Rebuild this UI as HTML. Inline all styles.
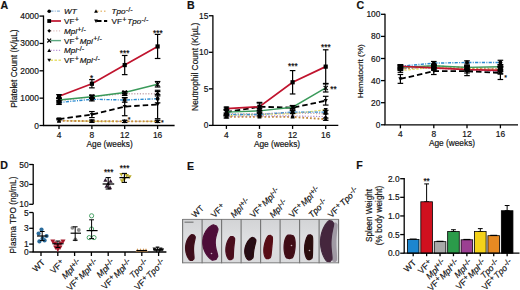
<!DOCTYPE html><html><head><meta charset="utf-8"><style>html,body{margin:0;padding:0;background:#fff;width:520px;height:290px;overflow:hidden}svg{display:block}text{stroke:#222;stroke-width:0.18px;paint-order:stroke}</style></head><body><svg width="520" height="290" viewBox="0 0 520 290">
<g font-family='"Liberation Sans", sans-serif'>
<text x="0.6" y="9.0" font-size="10.6" text-anchor="start" font-weight="bold" fill="#111">A</text>
<line x1="43.50" y1="15.50" x2="43.50" y2="125.50" stroke="#000" stroke-width="1.3" stroke-linecap="butt"/>
<line x1="39.50" y1="125.50" x2="43.50" y2="125.50" stroke="#000" stroke-width="1.3" stroke-linecap="butt"/>
<text x="38.9" y="128.5" font-size="8.4" text-anchor="end" fill="#111">0</text>
<line x1="39.50" y1="98.15" x2="43.50" y2="98.15" stroke="#000" stroke-width="1.3" stroke-linecap="butt"/>
<text x="38.9" y="101.15" font-size="8.4" text-anchor="end" fill="#111">1000</text>
<line x1="39.50" y1="70.80" x2="43.50" y2="70.80" stroke="#000" stroke-width="1.3" stroke-linecap="butt"/>
<text x="38.9" y="73.80000000000001" font-size="8.4" text-anchor="end" fill="#111">2000</text>
<line x1="39.50" y1="43.45" x2="43.50" y2="43.45" stroke="#000" stroke-width="1.3" stroke-linecap="butt"/>
<text x="38.9" y="46.45" font-size="8.4" text-anchor="end" fill="#111">3000</text>
<line x1="39.50" y1="16.10" x2="43.50" y2="16.10" stroke="#000" stroke-width="1.3" stroke-linecap="butt"/>
<text x="38.9" y="19.10000000000001" font-size="8.4" text-anchor="end" fill="#111">4000</text>
<line x1="42.90" y1="125.50" x2="174.60" y2="125.50" stroke="#000" stroke-width="1.3" stroke-linecap="butt"/>
<line x1="59.00" y1="125.50" x2="59.00" y2="129.00" stroke="#000" stroke-width="1.3" stroke-linecap="butt"/>
<text x="59.0" y="137.7" font-size="8.4" text-anchor="middle" fill="#111">4</text>
<line x1="91.90" y1="125.50" x2="91.90" y2="129.00" stroke="#000" stroke-width="1.3" stroke-linecap="butt"/>
<text x="91.9" y="137.7" font-size="8.4" text-anchor="middle" fill="#111">8</text>
<line x1="124.70" y1="125.50" x2="124.70" y2="129.00" stroke="#000" stroke-width="1.3" stroke-linecap="butt"/>
<text x="124.7" y="137.7" font-size="8.4" text-anchor="middle" fill="#111">12</text>
<line x1="157.60" y1="125.50" x2="157.60" y2="129.00" stroke="#000" stroke-width="1.3" stroke-linecap="butt"/>
<text x="157.6" y="137.7" font-size="8.4" text-anchor="middle" fill="#111">16</text>
<text x="109.6" y="147.3" font-size="8.3" text-anchor="middle" fill="#111">Age (weeks)</text>
<text x="16.7" y="68.6" font-size="8.45" text-anchor="middle" fill="#111" transform="rotate(-90 16.7 68.6)">Platelet Count (K/µL)</text>
<polyline points="59.00,120.71 91.90,121.26 124.70,121.40 157.60,121.40" fill="none" stroke="#b088d0" stroke-width="1.1" stroke-dasharray="1.2 1.6"/>
<polyline points="59.00,120.58 91.90,121.26 124.70,121.40 157.60,121.40" fill="none" stroke="#e4dc60" stroke-width="1.2" stroke-dasharray="2.5 1.5"/>
<polyline points="59.00,120.80 91.90,121.12 124.70,121.40 157.60,121.40" fill="none" stroke="#c48a40" stroke-width="1.9" stroke-dasharray="1.8 2.0"/>
<polyline points="59.00,119.07 91.90,114.56 124.70,106.63 157.60,104.50" fill="none" stroke="#000" stroke-width="1.8" stroke-dasharray="5.5 3"/>
<polyline points="59.00,102.53 91.90,99.24 124.70,100.01 157.60,98.75" fill="none" stroke="#2a8ad0" stroke-width="1.4" stroke-dasharray="3.2 1.3 1 1.3"/>
<polyline points="59.00,100.89 91.90,96.78 124.70,93.75 157.60,93.75" fill="none" stroke="#c8a8b0" stroke-width="1.3" stroke-dasharray="1.2 1.6"/>
<polyline points="59.00,100.01 91.90,96.76 124.70,92.52 157.60,84.26" fill="none" stroke="#3a9a5a" stroke-width="1.4"/>
<polyline points="59.00,96.24 91.90,83.74 124.70,65.06 157.60,46.46" fill="none" stroke="#c0142e" stroke-width="1.7"/>
<path d="M59.00 118.61L61.10 122.39L56.90 122.39Z" fill="#000"/>
<path d="M91.90 119.16L94.00 122.94L89.80 122.94Z" fill="#000"/>
<path d="M124.70 119.30L126.80 123.08L122.60 123.08Z" fill="#000"/>
<path d="M157.60 119.30L159.70 123.08L155.50 123.08Z" fill="#000"/>
<path d="M59.00 122.68L61.10 118.90L56.90 118.90Z" fill="#000"/>
<path d="M91.90 123.36L94.00 119.58L89.80 119.58Z" fill="#000"/>
<path d="M124.70 123.50L126.80 119.72L122.60 119.72Z" fill="#000"/>
<path d="M157.60 123.50L159.70 119.72L155.50 119.72Z" fill="#000"/>
<path d="M59.00 118.70L61.10 122.48L56.90 122.48Z" fill="#000"/>
<line x1="91.90" y1="120.03" x2="91.90" y2="122.22" stroke="#000" stroke-width="1.2" stroke-linecap="butt"/>
<line x1="89.10" y1="120.03" x2="94.70" y2="120.03" stroke="#000" stroke-width="1.2" stroke-linecap="butt"/>
<line x1="89.10" y1="122.22" x2="94.70" y2="122.22" stroke="#000" stroke-width="1.2" stroke-linecap="butt"/>
<path d="M91.90 119.02L94.00 122.80L89.80 122.80Z" fill="#000"/>
<line x1="124.70" y1="120.30" x2="124.70" y2="122.49" stroke="#000" stroke-width="1.2" stroke-linecap="butt"/>
<line x1="121.90" y1="120.30" x2="127.50" y2="120.30" stroke="#000" stroke-width="1.2" stroke-linecap="butt"/>
<line x1="121.90" y1="122.49" x2="127.50" y2="122.49" stroke="#000" stroke-width="1.2" stroke-linecap="butt"/>
<path d="M124.70 119.30L126.80 123.08L122.60 123.08Z" fill="#000"/>
<line x1="157.60" y1="120.30" x2="157.60" y2="122.49" stroke="#000" stroke-width="1.2" stroke-linecap="butt"/>
<line x1="154.80" y1="120.30" x2="160.40" y2="120.30" stroke="#000" stroke-width="1.2" stroke-linecap="butt"/>
<line x1="154.80" y1="122.49" x2="160.40" y2="122.49" stroke="#000" stroke-width="1.2" stroke-linecap="butt"/>
<path d="M157.60 119.30L159.70 123.08L155.50 123.08Z" fill="#000"/>
<line x1="59.00" y1="118.39" x2="59.00" y2="119.76" stroke="#000" stroke-width="1.2" stroke-linecap="butt"/>
<line x1="56.20" y1="118.39" x2="61.80" y2="118.39" stroke="#000" stroke-width="1.2" stroke-linecap="butt"/>
<line x1="56.20" y1="119.76" x2="61.80" y2="119.76" stroke="#000" stroke-width="1.2" stroke-linecap="butt"/>
<path d="M59.00 121.17L61.10 117.39L56.90 117.39Z" fill="#000"/>
<line x1="91.90" y1="111.55" x2="91.90" y2="117.57" stroke="#000" stroke-width="1.2" stroke-linecap="butt"/>
<line x1="89.10" y1="111.55" x2="94.70" y2="111.55" stroke="#000" stroke-width="1.2" stroke-linecap="butt"/>
<line x1="89.10" y1="117.57" x2="94.70" y2="117.57" stroke="#000" stroke-width="1.2" stroke-linecap="butt"/>
<path d="M91.90 116.66L94.00 112.88L89.80 112.88Z" fill="#000"/>
<line x1="124.70" y1="97.55" x2="124.70" y2="115.71" stroke="#000" stroke-width="1.2" stroke-linecap="butt"/>
<line x1="121.90" y1="97.55" x2="127.50" y2="97.55" stroke="#000" stroke-width="1.2" stroke-linecap="butt"/>
<line x1="121.90" y1="115.71" x2="127.50" y2="115.71" stroke="#000" stroke-width="1.2" stroke-linecap="butt"/>
<path d="M124.70 108.73L126.80 104.95L122.60 104.95Z" fill="#000"/>
<line x1="157.60" y1="90.27" x2="157.60" y2="118.72" stroke="#000" stroke-width="1.2" stroke-linecap="butt"/>
<line x1="154.80" y1="90.27" x2="160.40" y2="90.27" stroke="#000" stroke-width="1.2" stroke-linecap="butt"/>
<line x1="154.80" y1="118.72" x2="160.40" y2="118.72" stroke="#000" stroke-width="1.2" stroke-linecap="butt"/>
<path d="M157.60 106.60L159.70 102.82L155.50 102.82Z" fill="#000"/>
<line x1="59.00" y1="100.61" x2="59.00" y2="104.44" stroke="#000" stroke-width="1.2" stroke-linecap="butt"/>
<line x1="56.20" y1="100.61" x2="61.80" y2="100.61" stroke="#000" stroke-width="1.2" stroke-linecap="butt"/>
<line x1="56.20" y1="104.44" x2="61.80" y2="104.44" stroke="#000" stroke-width="1.2" stroke-linecap="butt"/>
<circle cx="59.00" cy="102.53" r="1.99" fill="#000"/>
<line x1="91.90" y1="97.60" x2="91.90" y2="100.89" stroke="#000" stroke-width="1.2" stroke-linecap="butt"/>
<line x1="89.10" y1="97.60" x2="94.70" y2="97.60" stroke="#000" stroke-width="1.2" stroke-linecap="butt"/>
<line x1="89.10" y1="100.89" x2="94.70" y2="100.89" stroke="#000" stroke-width="1.2" stroke-linecap="butt"/>
<circle cx="91.90" cy="99.24" r="1.99" fill="#000"/>
<line x1="124.70" y1="97.82" x2="124.70" y2="102.20" stroke="#000" stroke-width="1.2" stroke-linecap="butt"/>
<line x1="121.90" y1="97.82" x2="127.50" y2="97.82" stroke="#000" stroke-width="1.2" stroke-linecap="butt"/>
<line x1="121.90" y1="102.20" x2="127.50" y2="102.20" stroke="#000" stroke-width="1.2" stroke-linecap="butt"/>
<circle cx="124.70" cy="100.01" r="1.99" fill="#000"/>
<line x1="157.60" y1="94.65" x2="157.60" y2="102.85" stroke="#000" stroke-width="1.2" stroke-linecap="butt"/>
<line x1="154.80" y1="94.65" x2="160.40" y2="94.65" stroke="#000" stroke-width="1.2" stroke-linecap="butt"/>
<line x1="154.80" y1="102.85" x2="160.40" y2="102.85" stroke="#000" stroke-width="1.2" stroke-linecap="butt"/>
<circle cx="157.60" cy="98.75" r="1.99" fill="#000"/>
<line x1="59.00" y1="98.70" x2="59.00" y2="103.07" stroke="#000" stroke-width="1.2" stroke-linecap="butt"/>
<line x1="56.20" y1="98.70" x2="61.80" y2="98.70" stroke="#000" stroke-width="1.2" stroke-linecap="butt"/>
<line x1="56.20" y1="103.07" x2="61.80" y2="103.07" stroke="#000" stroke-width="1.2" stroke-linecap="butt"/>
<path d="M59.00 98.79L61.10 100.89L59.00 102.98L56.90 100.89Z" fill="#000"/>
<line x1="91.90" y1="95.14" x2="91.90" y2="98.42" stroke="#000" stroke-width="1.2" stroke-linecap="butt"/>
<line x1="89.10" y1="95.14" x2="94.70" y2="95.14" stroke="#000" stroke-width="1.2" stroke-linecap="butt"/>
<line x1="89.10" y1="98.42" x2="94.70" y2="98.42" stroke="#000" stroke-width="1.2" stroke-linecap="butt"/>
<path d="M91.90 94.68L94.00 96.78L91.90 98.88L89.80 96.78Z" fill="#000"/>
<line x1="124.70" y1="92.11" x2="124.70" y2="95.39" stroke="#000" stroke-width="1.2" stroke-linecap="butt"/>
<line x1="121.90" y1="92.11" x2="127.50" y2="92.11" stroke="#000" stroke-width="1.2" stroke-linecap="butt"/>
<line x1="121.90" y1="95.39" x2="127.50" y2="95.39" stroke="#000" stroke-width="1.2" stroke-linecap="butt"/>
<path d="M124.70 91.65L126.80 93.75L124.70 95.85L122.60 93.75Z" fill="#000"/>
<line x1="157.60" y1="91.56" x2="157.60" y2="95.93" stroke="#000" stroke-width="1.2" stroke-linecap="butt"/>
<line x1="154.80" y1="91.56" x2="160.40" y2="91.56" stroke="#000" stroke-width="1.2" stroke-linecap="butt"/>
<line x1="154.80" y1="95.93" x2="160.40" y2="95.93" stroke="#000" stroke-width="1.2" stroke-linecap="butt"/>
<path d="M157.60 91.65L159.70 93.75L157.60 95.85L155.50 93.75Z" fill="#000"/>
<line x1="59.00" y1="98.10" x2="59.00" y2="101.92" stroke="#000" stroke-width="1.2" stroke-linecap="butt"/>
<line x1="56.20" y1="98.10" x2="61.80" y2="98.10" stroke="#000" stroke-width="1.2" stroke-linecap="butt"/>
<line x1="56.20" y1="101.92" x2="61.80" y2="101.92" stroke="#000" stroke-width="1.2" stroke-linecap="butt"/>
<path d="M56.90 97.91L61.10 102.11M61.10 97.91L56.90 102.11" stroke="#000" stroke-width="1.2"/>
<line x1="91.90" y1="95.39" x2="91.90" y2="98.12" stroke="#000" stroke-width="1.2" stroke-linecap="butt"/>
<line x1="89.10" y1="95.39" x2="94.70" y2="95.39" stroke="#000" stroke-width="1.2" stroke-linecap="butt"/>
<line x1="89.10" y1="98.12" x2="94.70" y2="98.12" stroke="#000" stroke-width="1.2" stroke-linecap="butt"/>
<path d="M89.80 94.66L94.00 98.86M94.00 94.66L89.80 98.86" stroke="#000" stroke-width="1.2"/>
<line x1="124.70" y1="91.42" x2="124.70" y2="93.61" stroke="#000" stroke-width="1.2" stroke-linecap="butt"/>
<line x1="121.90" y1="91.42" x2="127.50" y2="91.42" stroke="#000" stroke-width="1.2" stroke-linecap="butt"/>
<line x1="121.90" y1="93.61" x2="127.50" y2="93.61" stroke="#000" stroke-width="1.2" stroke-linecap="butt"/>
<path d="M122.60 90.42L126.80 94.62M126.80 90.42L122.60 94.62" stroke="#000" stroke-width="1.2"/>
<line x1="157.60" y1="81.52" x2="157.60" y2="86.99" stroke="#000" stroke-width="1.2" stroke-linecap="butt"/>
<line x1="154.80" y1="81.52" x2="160.40" y2="81.52" stroke="#000" stroke-width="1.2" stroke-linecap="butt"/>
<line x1="154.80" y1="86.99" x2="160.40" y2="86.99" stroke="#000" stroke-width="1.2" stroke-linecap="butt"/>
<path d="M155.50 82.16L159.70 86.36M159.70 82.16L155.50 86.36" stroke="#000" stroke-width="1.2"/>
<line x1="59.00" y1="94.59" x2="59.00" y2="97.88" stroke="#000" stroke-width="1.2" stroke-linecap="butt"/>
<line x1="56.20" y1="94.59" x2="61.80" y2="94.59" stroke="#000" stroke-width="1.2" stroke-linecap="butt"/>
<line x1="56.20" y1="97.88" x2="61.80" y2="97.88" stroke="#000" stroke-width="1.2" stroke-linecap="butt"/>
<rect x="56.90" y="94.14" width="4.20" height="4.20" fill="#000"/>
<line x1="91.90" y1="79.63" x2="91.90" y2="87.84" stroke="#000" stroke-width="1.2" stroke-linecap="butt"/>
<line x1="89.10" y1="79.63" x2="94.70" y2="79.63" stroke="#000" stroke-width="1.2" stroke-linecap="butt"/>
<line x1="89.10" y1="87.84" x2="94.70" y2="87.84" stroke="#000" stroke-width="1.2" stroke-linecap="butt"/>
<rect x="89.80" y="81.64" width="4.20" height="4.20" fill="#000"/>
<line x1="124.70" y1="55.48" x2="124.70" y2="74.63" stroke="#000" stroke-width="1.2" stroke-linecap="butt"/>
<line x1="121.90" y1="55.48" x2="127.50" y2="55.48" stroke="#000" stroke-width="1.2" stroke-linecap="butt"/>
<line x1="121.90" y1="74.63" x2="127.50" y2="74.63" stroke="#000" stroke-width="1.2" stroke-linecap="butt"/>
<rect x="122.60" y="62.96" width="4.20" height="4.20" fill="#000"/>
<line x1="157.60" y1="34.42" x2="157.60" y2="58.49" stroke="#000" stroke-width="1.2" stroke-linecap="butt"/>
<line x1="154.80" y1="34.42" x2="160.40" y2="34.42" stroke="#000" stroke-width="1.2" stroke-linecap="butt"/>
<line x1="154.80" y1="58.49" x2="160.40" y2="58.49" stroke="#000" stroke-width="1.2" stroke-linecap="butt"/>
<rect x="155.50" y="44.36" width="4.20" height="4.20" fill="#000"/>
<text x="91.7" y="80.52" font-size="8.2" text-anchor="middle" fill="#000">*</text>
<text x="124.6" y="56.42" font-size="8.2" text-anchor="middle" fill="#000">***</text>
<text x="157.8" y="35.92" font-size="8.2" text-anchor="middle" fill="#000">***</text>
<text x="129.2" y="121.5" font-size="7" text-anchor="middle" fill="#000">*</text>
<text x="162.3" y="124.8" font-size="7" text-anchor="middle" fill="#000">*</text>
<line x1="50.50" y1="11.20" x2="61.00" y2="11.20" stroke="#8ab4d8" stroke-width="1.3" stroke-dasharray="3 1.2 1 1.2" stroke-linecap="butt"/>
<circle cx="49.20" cy="11.20" r="1.80" fill="#000"/>
<text x="64" y="14.10" font-size="8.1" fill="#111"><tspan font-style="italic">WT</tspan></text>
<line x1="50.50" y1="21.00" x2="61.00" y2="21.00" stroke="#c0142e" stroke-width="1.7" stroke-linecap="butt"/>
<rect x="47.30" y="19.10" width="3.80" height="3.80" fill="#000"/>
<text x="64" y="23.90" font-size="8.1" fill="#111"><tspan>VF</tspan><tspan font-size="7.29" dx="0.3" dy="-2.02">+</tspan><tspan dx="0" dy="2.02">​</tspan></text>
<line x1="50.50" y1="30.80" x2="61.00" y2="30.80" stroke="#e0c0c0" stroke-width="1.3" stroke-dasharray="1.2 1.6" stroke-linecap="butt"/>
<path d="M49.20 28.90L51.10 30.80L49.20 32.70L47.30 30.80Z" fill="#000"/>
<text x="64" y="33.70" font-size="8.1" fill="#111"><tspan font-style="italic">Mpl</tspan><tspan font-size="7.29" dx="0.3" dy="-2.02">+/-</tspan><tspan dx="0" dy="2.02">​</tspan></text>
<line x1="50.50" y1="40.60" x2="61.00" y2="40.60" stroke="#5aa880" stroke-width="1.4" stroke-linecap="butt"/>
<path d="M47.30 38.70L51.10 42.50M51.10 38.70L47.30 42.50" stroke="#000" stroke-width="1.2"/>
<text x="64" y="43.50" font-size="8.1" fill="#111"><tspan>VF</tspan><tspan font-size="7.29" dx="0.3" dy="-2.02">+</tspan><tspan dx="0.9" dy="2.02">​</tspan><tspan font-style="italic">Mpl</tspan><tspan font-size="7.29" dx="0.3" dy="-2.02">+/-</tspan><tspan dx="0" dy="2.02">​</tspan></text>
<line x1="50.50" y1="50.40" x2="61.00" y2="50.40" stroke="#b890d8" stroke-width="1.3" stroke-dasharray="1.2 1.6" stroke-linecap="butt"/>
<path d="M49.20 48.50L51.10 51.92L47.30 51.92Z" fill="#000"/>
<text x="64" y="53.30" font-size="8.1" fill="#111"><tspan font-style="italic">Mpl</tspan><tspan font-size="7.29" dx="0.3" dy="-2.02">-/-</tspan><tspan dx="0" dy="2.02">​</tspan></text>
<line x1="50.50" y1="60.20" x2="61.00" y2="60.20" stroke="#e8e070" stroke-width="1.4" stroke-dasharray="2.5 1.5" stroke-linecap="butt"/>
<path d="M49.20 62.10L51.10 58.68L47.30 58.68Z" fill="#000"/>
<text x="64" y="63.10" font-size="8.1" fill="#111"><tspan>VF</tspan><tspan font-size="7.29" dx="0.3" dy="-2.02">+</tspan><tspan dx="0.9" dy="2.02">​</tspan><tspan font-style="italic">Mpl</tspan><tspan font-size="7.29" dx="0.3" dy="-2.02">-/-</tspan><tspan dx="0" dy="2.02">​</tspan></text>
<line x1="97.00" y1="11.20" x2="107.20" y2="11.20" stroke="#e8c080" stroke-width="1.5" stroke-dasharray="1.5 2" stroke-linecap="butt"/>
<path d="M96.00 9.30L97.90 12.72L94.10 12.72Z" fill="#000"/>
<text x="111.5" y="14.10" font-size="8.1" fill="#111"><tspan font-style="italic">Tpo</tspan><tspan font-size="7.29" dx="0.3" dy="-2.02">-/-</tspan><tspan dx="0" dy="2.02">​</tspan></text>
<line x1="97.00" y1="21.00" x2="107.20" y2="21.00" stroke="#000" stroke-width="1.8" stroke-dasharray="4.5 2.5" stroke-linecap="butt"/>
<path d="M96.00 22.90L97.90 19.48L94.10 19.48Z" fill="#000"/>
<text x="111.5" y="23.90" font-size="8.1" fill="#111"><tspan>VF</tspan><tspan font-size="7.29" dx="0.3" dy="-2.02">+</tspan><tspan dx="0.9" dy="2.02">​</tspan><tspan font-style="italic">Tpo</tspan><tspan font-size="7.29" dx="0.3" dy="-2.02">-/-</tspan><tspan dx="0" dy="2.02">​</tspan></text>
<text x="187.0" y="9.1" font-size="10.6" text-anchor="start" font-weight="bold" fill="#111">B</text>
<line x1="212.90" y1="15.15" x2="212.90" y2="125.40" stroke="#000" stroke-width="1.3" stroke-linecap="butt"/>
<line x1="208.90" y1="125.40" x2="212.90" y2="125.40" stroke="#000" stroke-width="1.3" stroke-linecap="butt"/>
<text x="208.3" y="128.4" font-size="8.4" text-anchor="end" fill="#111">0</text>
<line x1="208.90" y1="88.85" x2="212.90" y2="88.85" stroke="#000" stroke-width="1.3" stroke-linecap="butt"/>
<text x="208.3" y="91.85000000000001" font-size="8.4" text-anchor="end" fill="#111">5</text>
<line x1="208.90" y1="52.30" x2="212.90" y2="52.30" stroke="#000" stroke-width="1.3" stroke-linecap="butt"/>
<text x="208.3" y="55.30000000000001" font-size="8.4" text-anchor="end" fill="#111">10</text>
<line x1="208.90" y1="15.75" x2="212.90" y2="15.75" stroke="#000" stroke-width="1.3" stroke-linecap="butt"/>
<text x="208.3" y="18.750000000000014" font-size="8.4" text-anchor="end" fill="#111">15</text>
<line x1="212.30" y1="125.40" x2="338.30" y2="125.40" stroke="#000" stroke-width="1.3" stroke-linecap="butt"/>
<line x1="226.40" y1="125.40" x2="226.40" y2="128.90" stroke="#000" stroke-width="1.3" stroke-linecap="butt"/>
<text x="226.4" y="137.6" font-size="8.4" text-anchor="middle" fill="#111">4</text>
<line x1="259.50" y1="125.40" x2="259.50" y2="128.90" stroke="#000" stroke-width="1.3" stroke-linecap="butt"/>
<text x="259.5" y="137.6" font-size="8.4" text-anchor="middle" fill="#111">8</text>
<line x1="292.60" y1="125.40" x2="292.60" y2="128.90" stroke="#000" stroke-width="1.3" stroke-linecap="butt"/>
<text x="292.6" y="137.6" font-size="8.4" text-anchor="middle" fill="#111">12</text>
<line x1="325.70" y1="125.40" x2="325.70" y2="128.90" stroke="#000" stroke-width="1.3" stroke-linecap="butt"/>
<text x="325.7" y="137.6" font-size="8.4" text-anchor="middle" fill="#111">16</text>
<text x="277" y="147.3" font-size="8.3" text-anchor="middle" fill="#111">Age (weeks)</text>
<text x="197.6" y="66.8" font-size="8.4" text-anchor="middle" fill="#111" transform="rotate(-90 197.6 66.8)">Neutrophil Count (K/µL)</text>
<polyline points="226.40,116.92 259.50,116.92 292.60,116.92 325.70,119.19" fill="none" stroke="#c48a40" stroke-width="1.9" stroke-dasharray="1.8 2.0"/>
<polyline points="226.40,116.26 259.50,115.90 292.60,115.90 325.70,116.63" fill="none" stroke="#b088d0" stroke-width="1.1" stroke-dasharray="1.2 1.6"/>
<polyline points="226.40,115.53 259.50,114.44 292.60,113.70 325.70,109.68" fill="none" stroke="#e4dc60" stroke-width="1.2" stroke-dasharray="2.5 1.5"/>
<polyline points="226.40,114.44 259.50,114.44 292.60,112.10 325.70,112.10" fill="none" stroke="#2a8ad0" stroke-width="1.4" stroke-dasharray="3.2 1.3 1 1.3"/>
<polyline points="226.40,113.70 259.50,113.70 292.60,112.97 325.70,113.70" fill="none" stroke="#c8a8b0" stroke-width="1.3" stroke-dasharray="1.2 1.6"/>
<polyline points="226.40,112.10 259.50,106.76 292.60,107.71 325.70,100.69" fill="none" stroke="#000" stroke-width="1.8" stroke-dasharray="5.5 3"/>
<polyline points="226.40,112.10 259.50,110.85 292.60,107.20 325.70,87.97" fill="none" stroke="#3a9a5a" stroke-width="1.4"/>
<polyline points="226.40,108.59 259.50,106.76 292.60,82.27 325.70,66.63" fill="none" stroke="#c0142e" stroke-width="1.7"/>
<line x1="226.40" y1="115.82" x2="226.40" y2="118.02" stroke="#000" stroke-width="1.2" stroke-linecap="butt"/>
<line x1="223.60" y1="115.82" x2="229.20" y2="115.82" stroke="#000" stroke-width="1.2" stroke-linecap="butt"/>
<line x1="223.60" y1="118.02" x2="229.20" y2="118.02" stroke="#000" stroke-width="1.2" stroke-linecap="butt"/>
<path d="M226.40 114.82L228.50 118.60L224.30 118.60Z" fill="#000"/>
<path d="M259.50 114.82L261.60 118.60L257.40 118.60Z" fill="#000"/>
<path d="M292.60 114.82L294.70 118.60L290.50 118.60Z" fill="#000"/>
<line x1="325.70" y1="118.09" x2="325.70" y2="120.28" stroke="#000" stroke-width="1.2" stroke-linecap="butt"/>
<line x1="322.90" y1="118.09" x2="328.50" y2="118.09" stroke="#000" stroke-width="1.2" stroke-linecap="butt"/>
<line x1="322.90" y1="120.28" x2="328.50" y2="120.28" stroke="#000" stroke-width="1.2" stroke-linecap="butt"/>
<path d="M325.70 117.09L327.80 120.87L323.60 120.87Z" fill="#000"/>
<path d="M226.40 114.16L228.50 117.94L224.30 117.94Z" fill="#000"/>
<path d="M259.50 113.80L261.60 117.58L257.40 117.58Z" fill="#000"/>
<path d="M292.60 113.80L294.70 117.58L290.50 117.58Z" fill="#000"/>
<path d="M325.70 114.53L327.80 118.31L323.60 118.31Z" fill="#000"/>
<path d="M226.40 117.63L228.50 113.85L224.30 113.85Z" fill="#000"/>
<path d="M259.50 116.53L261.60 112.75L257.40 112.75Z" fill="#000"/>
<path d="M292.60 115.80L294.70 112.02L290.50 112.02Z" fill="#000"/>
<path d="M325.70 111.78L327.80 108.00L323.60 108.00Z" fill="#000"/>
<line x1="226.40" y1="112.97" x2="226.40" y2="115.90" stroke="#000" stroke-width="1.2" stroke-linecap="butt"/>
<line x1="223.60" y1="112.97" x2="229.20" y2="112.97" stroke="#000" stroke-width="1.2" stroke-linecap="butt"/>
<line x1="223.60" y1="115.90" x2="229.20" y2="115.90" stroke="#000" stroke-width="1.2" stroke-linecap="butt"/>
<circle cx="226.40" cy="114.44" r="1.99" fill="#000"/>
<line x1="259.50" y1="112.97" x2="259.50" y2="115.90" stroke="#000" stroke-width="1.2" stroke-linecap="butt"/>
<line x1="256.70" y1="112.97" x2="262.30" y2="112.97" stroke="#000" stroke-width="1.2" stroke-linecap="butt"/>
<line x1="256.70" y1="115.90" x2="262.30" y2="115.90" stroke="#000" stroke-width="1.2" stroke-linecap="butt"/>
<circle cx="259.50" cy="114.44" r="1.99" fill="#000"/>
<line x1="292.60" y1="110.63" x2="292.60" y2="113.56" stroke="#000" stroke-width="1.2" stroke-linecap="butt"/>
<line x1="289.80" y1="110.63" x2="295.40" y2="110.63" stroke="#000" stroke-width="1.2" stroke-linecap="butt"/>
<line x1="289.80" y1="113.56" x2="295.40" y2="113.56" stroke="#000" stroke-width="1.2" stroke-linecap="butt"/>
<circle cx="292.60" cy="112.10" r="1.99" fill="#000"/>
<line x1="325.70" y1="110.27" x2="325.70" y2="113.92" stroke="#000" stroke-width="1.2" stroke-linecap="butt"/>
<line x1="322.90" y1="110.27" x2="328.50" y2="110.27" stroke="#000" stroke-width="1.2" stroke-linecap="butt"/>
<line x1="322.90" y1="113.92" x2="328.50" y2="113.92" stroke="#000" stroke-width="1.2" stroke-linecap="butt"/>
<circle cx="325.70" cy="112.10" r="1.99" fill="#000"/>
<path d="M226.40 111.60L228.50 113.70L226.40 115.80L224.30 113.70Z" fill="#000"/>
<path d="M259.50 111.60L261.60 113.70L259.50 115.80L257.40 113.70Z" fill="#000"/>
<path d="M292.60 110.87L294.70 112.97L292.60 115.07L290.50 112.97Z" fill="#000"/>
<path d="M325.70 111.60L327.80 113.70L325.70 115.80L323.60 113.70Z" fill="#000"/>
<line x1="226.40" y1="109.17" x2="226.40" y2="115.02" stroke="#000" stroke-width="1.2" stroke-linecap="butt"/>
<line x1="223.60" y1="109.17" x2="229.20" y2="109.17" stroke="#000" stroke-width="1.2" stroke-linecap="butt"/>
<line x1="223.60" y1="115.02" x2="229.20" y2="115.02" stroke="#000" stroke-width="1.2" stroke-linecap="butt"/>
<path d="M226.40 114.20L228.50 110.42L224.30 110.42Z" fill="#000"/>
<line x1="259.50" y1="103.10" x2="259.50" y2="110.41" stroke="#000" stroke-width="1.2" stroke-linecap="butt"/>
<line x1="256.70" y1="103.10" x2="262.30" y2="103.10" stroke="#000" stroke-width="1.2" stroke-linecap="butt"/>
<line x1="256.70" y1="110.41" x2="262.30" y2="110.41" stroke="#000" stroke-width="1.2" stroke-linecap="butt"/>
<path d="M259.50 108.86L261.60 105.08L257.40 105.08Z" fill="#000"/>
<line x1="292.60" y1="105.52" x2="292.60" y2="109.90" stroke="#000" stroke-width="1.2" stroke-linecap="butt"/>
<line x1="289.80" y1="105.52" x2="295.40" y2="105.52" stroke="#000" stroke-width="1.2" stroke-linecap="butt"/>
<line x1="289.80" y1="109.90" x2="295.40" y2="109.90" stroke="#000" stroke-width="1.2" stroke-linecap="butt"/>
<path d="M292.60 109.81L294.70 106.03L290.50 106.03Z" fill="#000"/>
<line x1="325.70" y1="96.31" x2="325.70" y2="105.08" stroke="#000" stroke-width="1.2" stroke-linecap="butt"/>
<line x1="322.90" y1="96.31" x2="328.50" y2="96.31" stroke="#000" stroke-width="1.2" stroke-linecap="butt"/>
<line x1="322.90" y1="105.08" x2="328.50" y2="105.08" stroke="#000" stroke-width="1.2" stroke-linecap="butt"/>
<path d="M325.70 102.79L327.80 99.01L323.60 99.01Z" fill="#000"/>
<line x1="226.40" y1="109.90" x2="226.40" y2="114.29" stroke="#000" stroke-width="1.2" stroke-linecap="butt"/>
<line x1="223.60" y1="109.90" x2="229.20" y2="109.90" stroke="#000" stroke-width="1.2" stroke-linecap="butt"/>
<line x1="223.60" y1="114.29" x2="229.20" y2="114.29" stroke="#000" stroke-width="1.2" stroke-linecap="butt"/>
<path d="M224.30 110.00L228.50 114.20M228.50 110.00L224.30 114.20" stroke="#000" stroke-width="1.2"/>
<line x1="259.50" y1="108.66" x2="259.50" y2="113.05" stroke="#000" stroke-width="1.2" stroke-linecap="butt"/>
<line x1="256.70" y1="108.66" x2="262.30" y2="108.66" stroke="#000" stroke-width="1.2" stroke-linecap="butt"/>
<line x1="256.70" y1="113.05" x2="262.30" y2="113.05" stroke="#000" stroke-width="1.2" stroke-linecap="butt"/>
<path d="M257.40 108.75L261.60 112.95M261.60 108.75L257.40 112.95" stroke="#000" stroke-width="1.2"/>
<line x1="292.60" y1="105.74" x2="292.60" y2="108.66" stroke="#000" stroke-width="1.2" stroke-linecap="butt"/>
<line x1="289.80" y1="105.74" x2="295.40" y2="105.74" stroke="#000" stroke-width="1.2" stroke-linecap="butt"/>
<line x1="289.80" y1="108.66" x2="295.40" y2="108.66" stroke="#000" stroke-width="1.2" stroke-linecap="butt"/>
<path d="M290.50 105.10L294.70 109.30M294.70 105.10L290.50 109.30" stroke="#000" stroke-width="1.2"/>
<line x1="325.70" y1="83.95" x2="325.70" y2="91.99" stroke="#000" stroke-width="1.2" stroke-linecap="butt"/>
<line x1="322.90" y1="83.95" x2="328.50" y2="83.95" stroke="#000" stroke-width="1.2" stroke-linecap="butt"/>
<line x1="322.90" y1="91.99" x2="328.50" y2="91.99" stroke="#000" stroke-width="1.2" stroke-linecap="butt"/>
<path d="M323.60 85.87L327.80 90.07M327.80 85.87L323.60 90.07" stroke="#000" stroke-width="1.2"/>
<line x1="226.40" y1="107.12" x2="226.40" y2="110.05" stroke="#000" stroke-width="1.2" stroke-linecap="butt"/>
<line x1="223.60" y1="107.12" x2="229.20" y2="107.12" stroke="#000" stroke-width="1.2" stroke-linecap="butt"/>
<line x1="223.60" y1="110.05" x2="229.20" y2="110.05" stroke="#000" stroke-width="1.2" stroke-linecap="butt"/>
<rect x="224.30" y="106.49" width="4.20" height="4.20" fill="#000"/>
<line x1="259.50" y1="102.37" x2="259.50" y2="111.15" stroke="#000" stroke-width="1.2" stroke-linecap="butt"/>
<line x1="256.70" y1="102.37" x2="262.30" y2="102.37" stroke="#000" stroke-width="1.2" stroke-linecap="butt"/>
<line x1="256.70" y1="111.15" x2="262.30" y2="111.15" stroke="#000" stroke-width="1.2" stroke-linecap="butt"/>
<rect x="257.40" y="104.66" width="4.20" height="4.20" fill="#000"/>
<line x1="292.60" y1="70.58" x2="292.60" y2="93.97" stroke="#000" stroke-width="1.2" stroke-linecap="butt"/>
<line x1="289.80" y1="70.58" x2="295.40" y2="70.58" stroke="#000" stroke-width="1.2" stroke-linecap="butt"/>
<line x1="289.80" y1="93.97" x2="295.40" y2="93.97" stroke="#000" stroke-width="1.2" stroke-linecap="butt"/>
<rect x="290.50" y="80.17" width="4.20" height="4.20" fill="#000"/>
<line x1="325.70" y1="49.81" x2="325.70" y2="83.44" stroke="#000" stroke-width="1.2" stroke-linecap="butt"/>
<line x1="322.90" y1="49.81" x2="328.50" y2="49.81" stroke="#000" stroke-width="1.2" stroke-linecap="butt"/>
<line x1="322.90" y1="83.44" x2="328.50" y2="83.44" stroke="#000" stroke-width="1.2" stroke-linecap="butt"/>
<rect x="323.60" y="64.53" width="4.20" height="4.20" fill="#000"/>
<text x="292.8" y="68.72" font-size="8.2" text-anchor="middle" fill="#000">***</text>
<text x="325.8" y="49.620000000000005" font-size="8.2" text-anchor="middle" fill="#000">***</text>
<text x="333.4" y="91.92" font-size="8.2" text-anchor="middle" fill="#000">**</text>
<text x="356.4" y="9.1" font-size="10.6" text-anchor="start" font-weight="bold" fill="#111">C</text>
<line x1="385.00" y1="13.70" x2="385.00" y2="124.80" stroke="#000" stroke-width="1.3" stroke-linecap="butt"/>
<line x1="381.00" y1="124.80" x2="385.00" y2="124.80" stroke="#000" stroke-width="1.3" stroke-linecap="butt"/>
<text x="380.4" y="127.8" font-size="8.4" text-anchor="end" fill="#111">0</text>
<line x1="381.00" y1="102.70" x2="385.00" y2="102.70" stroke="#000" stroke-width="1.3" stroke-linecap="butt"/>
<text x="380.4" y="105.69999999999999" font-size="8.4" text-anchor="end" fill="#111">20</text>
<line x1="381.00" y1="80.60" x2="385.00" y2="80.60" stroke="#000" stroke-width="1.3" stroke-linecap="butt"/>
<text x="380.4" y="83.6" font-size="8.4" text-anchor="end" fill="#111">40</text>
<line x1="381.00" y1="58.50" x2="385.00" y2="58.50" stroke="#000" stroke-width="1.3" stroke-linecap="butt"/>
<text x="380.4" y="61.5" font-size="8.4" text-anchor="end" fill="#111">60</text>
<line x1="381.00" y1="36.40" x2="385.00" y2="36.40" stroke="#000" stroke-width="1.3" stroke-linecap="butt"/>
<text x="380.4" y="39.39999999999999" font-size="8.4" text-anchor="end" fill="#111">80</text>
<line x1="381.00" y1="14.30" x2="385.00" y2="14.30" stroke="#000" stroke-width="1.3" stroke-linecap="butt"/>
<text x="380.4" y="17.299999999999997" font-size="8.4" text-anchor="end" fill="#111">100</text>
<line x1="384.40" y1="124.80" x2="518.00" y2="124.80" stroke="#000" stroke-width="1.3" stroke-linecap="butt"/>
<line x1="400.40" y1="124.80" x2="400.40" y2="128.30" stroke="#000" stroke-width="1.3" stroke-linecap="butt"/>
<text x="400.4" y="137.0" font-size="8.4" text-anchor="middle" fill="#111">4</text>
<line x1="433.80" y1="124.80" x2="433.80" y2="128.30" stroke="#000" stroke-width="1.3" stroke-linecap="butt"/>
<text x="433.8" y="137.0" font-size="8.4" text-anchor="middle" fill="#111">8</text>
<line x1="467.00" y1="124.80" x2="467.00" y2="128.30" stroke="#000" stroke-width="1.3" stroke-linecap="butt"/>
<text x="467.0" y="137.0" font-size="8.4" text-anchor="middle" fill="#111">12</text>
<line x1="500.40" y1="124.80" x2="500.40" y2="128.30" stroke="#000" stroke-width="1.3" stroke-linecap="butt"/>
<text x="500.4" y="137.0" font-size="8.4" text-anchor="middle" fill="#111">16</text>
<text x="452" y="146.3" font-size="8.3" text-anchor="middle" fill="#111">Age (weeks)</text>
<text x="363.2" y="71.3" font-size="8.1" text-anchor="middle" fill="#111" transform="rotate(-90 363.2 71.3)">Hematocrit (%)</text>
<polyline points="400.40,68.44 433.80,68.44 467.00,69.55 500.40,71.76" fill="none" stroke="#b088d0" stroke-width="1.1" stroke-dasharray="1.2 1.6"/>
<polyline points="400.40,70.66 433.80,67.34 467.00,68.44 500.40,69.55" fill="none" stroke="#e4dc60" stroke-width="1.2" stroke-dasharray="2.5 1.5"/>
<polyline points="400.40,68.78 433.80,66.23 467.00,67.89 500.40,69.00" fill="none" stroke="#c48a40" stroke-width="1.9" stroke-dasharray="1.8 2.0"/>
<polyline points="400.40,67.34 433.80,67.34 467.00,67.34 500.40,68.44" fill="none" stroke="#c8a8b0" stroke-width="1.3" stroke-dasharray="1.2 1.6"/>
<polyline points="400.40,66.23 433.80,63.14 467.00,62.48 500.40,62.48" fill="none" stroke="#2a8ad0" stroke-width="1.4" stroke-dasharray="3.2 1.3 1 1.3"/>
<polyline points="400.40,67.34 433.80,65.68 467.00,67.34 500.40,66.79" fill="none" stroke="#3a9a5a" stroke-width="1.4"/>
<polyline points="400.40,66.23 433.80,67.89 467.00,69.66 500.40,70.43" fill="none" stroke="#c0142e" stroke-width="1.7"/>
<polyline points="400.40,78.94 433.80,71.21 467.00,71.21 500.40,72.86" fill="none" stroke="#000" stroke-width="1.8" stroke-dasharray="5.5 3"/>
<line x1="400.40" y1="66.79" x2="400.40" y2="70.10" stroke="#000" stroke-width="1.2" stroke-linecap="butt"/>
<line x1="397.60" y1="66.79" x2="403.20" y2="66.79" stroke="#000" stroke-width="1.2" stroke-linecap="butt"/>
<line x1="397.60" y1="70.10" x2="403.20" y2="70.10" stroke="#000" stroke-width="1.2" stroke-linecap="butt"/>
<path d="M400.40 66.34L402.50 70.12L398.30 70.12Z" fill="#000"/>
<line x1="433.80" y1="66.79" x2="433.80" y2="70.10" stroke="#000" stroke-width="1.2" stroke-linecap="butt"/>
<line x1="431.00" y1="66.79" x2="436.60" y2="66.79" stroke="#000" stroke-width="1.2" stroke-linecap="butt"/>
<line x1="431.00" y1="70.10" x2="436.60" y2="70.10" stroke="#000" stroke-width="1.2" stroke-linecap="butt"/>
<path d="M433.80 66.34L435.90 70.12L431.70 70.12Z" fill="#000"/>
<line x1="467.00" y1="67.89" x2="467.00" y2="71.21" stroke="#000" stroke-width="1.2" stroke-linecap="butt"/>
<line x1="464.20" y1="67.89" x2="469.80" y2="67.89" stroke="#000" stroke-width="1.2" stroke-linecap="butt"/>
<line x1="464.20" y1="71.21" x2="469.80" y2="71.21" stroke="#000" stroke-width="1.2" stroke-linecap="butt"/>
<path d="M467.00 67.45L469.10 71.23L464.90 71.23Z" fill="#000"/>
<line x1="500.40" y1="69.55" x2="500.40" y2="73.97" stroke="#000" stroke-width="1.2" stroke-linecap="butt"/>
<line x1="497.60" y1="69.55" x2="503.20" y2="69.55" stroke="#000" stroke-width="1.2" stroke-linecap="butt"/>
<line x1="497.60" y1="73.97" x2="503.20" y2="73.97" stroke="#000" stroke-width="1.2" stroke-linecap="butt"/>
<path d="M500.40 69.66L502.50 73.44L498.30 73.44Z" fill="#000"/>
<line x1="400.40" y1="69.00" x2="400.40" y2="72.31" stroke="#000" stroke-width="1.2" stroke-linecap="butt"/>
<line x1="397.60" y1="69.00" x2="403.20" y2="69.00" stroke="#000" stroke-width="1.2" stroke-linecap="butt"/>
<line x1="397.60" y1="72.31" x2="403.20" y2="72.31" stroke="#000" stroke-width="1.2" stroke-linecap="butt"/>
<path d="M400.40 72.75L402.50 68.97L398.30 68.97Z" fill="#000"/>
<line x1="433.80" y1="65.68" x2="433.80" y2="69.00" stroke="#000" stroke-width="1.2" stroke-linecap="butt"/>
<line x1="431.00" y1="65.68" x2="436.60" y2="65.68" stroke="#000" stroke-width="1.2" stroke-linecap="butt"/>
<line x1="431.00" y1="69.00" x2="436.60" y2="69.00" stroke="#000" stroke-width="1.2" stroke-linecap="butt"/>
<path d="M433.80 69.44L435.90 65.66L431.70 65.66Z" fill="#000"/>
<line x1="467.00" y1="66.79" x2="467.00" y2="70.10" stroke="#000" stroke-width="1.2" stroke-linecap="butt"/>
<line x1="464.20" y1="66.79" x2="469.80" y2="66.79" stroke="#000" stroke-width="1.2" stroke-linecap="butt"/>
<line x1="464.20" y1="70.10" x2="469.80" y2="70.10" stroke="#000" stroke-width="1.2" stroke-linecap="butt"/>
<path d="M467.00 70.54L469.10 66.76L464.90 66.76Z" fill="#000"/>
<line x1="500.40" y1="67.34" x2="500.40" y2="71.76" stroke="#000" stroke-width="1.2" stroke-linecap="butt"/>
<line x1="497.60" y1="67.34" x2="503.20" y2="67.34" stroke="#000" stroke-width="1.2" stroke-linecap="butt"/>
<line x1="497.60" y1="71.76" x2="503.20" y2="71.76" stroke="#000" stroke-width="1.2" stroke-linecap="butt"/>
<path d="M500.40 71.65L502.50 67.87L498.30 67.87Z" fill="#000"/>
<line x1="400.40" y1="67.12" x2="400.40" y2="70.43" stroke="#000" stroke-width="1.2" stroke-linecap="butt"/>
<line x1="397.60" y1="67.12" x2="403.20" y2="67.12" stroke="#000" stroke-width="1.2" stroke-linecap="butt"/>
<line x1="397.60" y1="70.43" x2="403.20" y2="70.43" stroke="#000" stroke-width="1.2" stroke-linecap="butt"/>
<path d="M400.40 66.68L402.50 70.46L398.30 70.46Z" fill="#000"/>
<line x1="433.80" y1="64.58" x2="433.80" y2="67.89" stroke="#000" stroke-width="1.2" stroke-linecap="butt"/>
<line x1="431.00" y1="64.58" x2="436.60" y2="64.58" stroke="#000" stroke-width="1.2" stroke-linecap="butt"/>
<line x1="431.00" y1="67.89" x2="436.60" y2="67.89" stroke="#000" stroke-width="1.2" stroke-linecap="butt"/>
<path d="M433.80 64.14L435.90 67.92L431.70 67.92Z" fill="#000"/>
<line x1="467.00" y1="66.23" x2="467.00" y2="69.55" stroke="#000" stroke-width="1.2" stroke-linecap="butt"/>
<line x1="464.20" y1="66.23" x2="469.80" y2="66.23" stroke="#000" stroke-width="1.2" stroke-linecap="butt"/>
<line x1="464.20" y1="69.55" x2="469.80" y2="69.55" stroke="#000" stroke-width="1.2" stroke-linecap="butt"/>
<path d="M467.00 65.79L469.10 69.57L464.90 69.57Z" fill="#000"/>
<line x1="500.40" y1="66.79" x2="500.40" y2="71.21" stroke="#000" stroke-width="1.2" stroke-linecap="butt"/>
<line x1="497.60" y1="66.79" x2="503.20" y2="66.79" stroke="#000" stroke-width="1.2" stroke-linecap="butt"/>
<line x1="497.60" y1="71.21" x2="503.20" y2="71.21" stroke="#000" stroke-width="1.2" stroke-linecap="butt"/>
<path d="M500.40 66.90L502.50 70.68L498.30 70.68Z" fill="#000"/>
<line x1="400.40" y1="65.68" x2="400.40" y2="69.00" stroke="#000" stroke-width="1.2" stroke-linecap="butt"/>
<line x1="397.60" y1="65.68" x2="403.20" y2="65.68" stroke="#000" stroke-width="1.2" stroke-linecap="butt"/>
<line x1="397.60" y1="69.00" x2="403.20" y2="69.00" stroke="#000" stroke-width="1.2" stroke-linecap="butt"/>
<path d="M400.40 65.24L402.50 67.34L400.40 69.44L398.30 67.34Z" fill="#000"/>
<line x1="433.80" y1="65.68" x2="433.80" y2="69.00" stroke="#000" stroke-width="1.2" stroke-linecap="butt"/>
<line x1="431.00" y1="65.68" x2="436.60" y2="65.68" stroke="#000" stroke-width="1.2" stroke-linecap="butt"/>
<line x1="431.00" y1="69.00" x2="436.60" y2="69.00" stroke="#000" stroke-width="1.2" stroke-linecap="butt"/>
<path d="M433.80 65.24L435.90 67.34L433.80 69.44L431.70 67.34Z" fill="#000"/>
<line x1="467.00" y1="65.68" x2="467.00" y2="69.00" stroke="#000" stroke-width="1.2" stroke-linecap="butt"/>
<line x1="464.20" y1="65.68" x2="469.80" y2="65.68" stroke="#000" stroke-width="1.2" stroke-linecap="butt"/>
<line x1="464.20" y1="69.00" x2="469.80" y2="69.00" stroke="#000" stroke-width="1.2" stroke-linecap="butt"/>
<path d="M467.00 65.24L469.10 67.34L467.00 69.44L464.90 67.34Z" fill="#000"/>
<line x1="500.40" y1="66.23" x2="500.40" y2="70.66" stroke="#000" stroke-width="1.2" stroke-linecap="butt"/>
<line x1="497.60" y1="66.23" x2="503.20" y2="66.23" stroke="#000" stroke-width="1.2" stroke-linecap="butt"/>
<line x1="497.60" y1="70.66" x2="503.20" y2="70.66" stroke="#000" stroke-width="1.2" stroke-linecap="butt"/>
<path d="M500.40 66.34L502.50 68.44L500.40 70.54L498.30 68.44Z" fill="#000"/>
<line x1="400.40" y1="64.58" x2="400.40" y2="67.89" stroke="#000" stroke-width="1.2" stroke-linecap="butt"/>
<line x1="397.60" y1="64.58" x2="403.20" y2="64.58" stroke="#000" stroke-width="1.2" stroke-linecap="butt"/>
<line x1="397.60" y1="67.89" x2="403.20" y2="67.89" stroke="#000" stroke-width="1.2" stroke-linecap="butt"/>
<circle cx="400.40" cy="66.23" r="1.99" fill="#000"/>
<line x1="433.80" y1="61.48" x2="433.80" y2="64.80" stroke="#000" stroke-width="1.2" stroke-linecap="butt"/>
<line x1="431.00" y1="61.48" x2="436.60" y2="61.48" stroke="#000" stroke-width="1.2" stroke-linecap="butt"/>
<line x1="431.00" y1="64.80" x2="436.60" y2="64.80" stroke="#000" stroke-width="1.2" stroke-linecap="butt"/>
<circle cx="433.80" cy="63.14" r="1.99" fill="#000"/>
<line x1="467.00" y1="60.82" x2="467.00" y2="64.14" stroke="#000" stroke-width="1.2" stroke-linecap="butt"/>
<line x1="464.20" y1="60.82" x2="469.80" y2="60.82" stroke="#000" stroke-width="1.2" stroke-linecap="butt"/>
<line x1="464.20" y1="64.14" x2="469.80" y2="64.14" stroke="#000" stroke-width="1.2" stroke-linecap="butt"/>
<circle cx="467.00" cy="62.48" r="1.99" fill="#000"/>
<line x1="500.40" y1="60.27" x2="500.40" y2="64.69" stroke="#000" stroke-width="1.2" stroke-linecap="butt"/>
<line x1="497.60" y1="60.27" x2="503.20" y2="60.27" stroke="#000" stroke-width="1.2" stroke-linecap="butt"/>
<line x1="497.60" y1="64.69" x2="503.20" y2="64.69" stroke="#000" stroke-width="1.2" stroke-linecap="butt"/>
<circle cx="500.40" cy="62.48" r="1.99" fill="#000"/>
<line x1="400.40" y1="65.68" x2="400.40" y2="69.00" stroke="#000" stroke-width="1.2" stroke-linecap="butt"/>
<line x1="397.60" y1="65.68" x2="403.20" y2="65.68" stroke="#000" stroke-width="1.2" stroke-linecap="butt"/>
<line x1="397.60" y1="69.00" x2="403.20" y2="69.00" stroke="#000" stroke-width="1.2" stroke-linecap="butt"/>
<path d="M398.30 65.24L402.50 69.44M402.50 65.24L398.30 69.44" stroke="#000" stroke-width="1.2"/>
<line x1="433.80" y1="64.03" x2="433.80" y2="67.34" stroke="#000" stroke-width="1.2" stroke-linecap="butt"/>
<line x1="431.00" y1="64.03" x2="436.60" y2="64.03" stroke="#000" stroke-width="1.2" stroke-linecap="butt"/>
<line x1="431.00" y1="67.34" x2="436.60" y2="67.34" stroke="#000" stroke-width="1.2" stroke-linecap="butt"/>
<path d="M431.70 63.58L435.90 67.78M435.90 63.58L431.70 67.78" stroke="#000" stroke-width="1.2"/>
<line x1="467.00" y1="65.68" x2="467.00" y2="69.00" stroke="#000" stroke-width="1.2" stroke-linecap="butt"/>
<line x1="464.20" y1="65.68" x2="469.80" y2="65.68" stroke="#000" stroke-width="1.2" stroke-linecap="butt"/>
<line x1="464.20" y1="69.00" x2="469.80" y2="69.00" stroke="#000" stroke-width="1.2" stroke-linecap="butt"/>
<path d="M464.90 65.24L469.10 69.44M469.10 65.24L464.90 69.44" stroke="#000" stroke-width="1.2"/>
<line x1="500.40" y1="64.58" x2="500.40" y2="69.00" stroke="#000" stroke-width="1.2" stroke-linecap="butt"/>
<line x1="497.60" y1="64.58" x2="503.20" y2="64.58" stroke="#000" stroke-width="1.2" stroke-linecap="butt"/>
<line x1="497.60" y1="69.00" x2="503.20" y2="69.00" stroke="#000" stroke-width="1.2" stroke-linecap="butt"/>
<path d="M498.30 64.69L502.50 68.89M502.50 64.69L498.30 68.89" stroke="#000" stroke-width="1.2"/>
<line x1="400.40" y1="64.58" x2="400.40" y2="67.89" stroke="#000" stroke-width="1.2" stroke-linecap="butt"/>
<line x1="397.60" y1="64.58" x2="403.20" y2="64.58" stroke="#000" stroke-width="1.2" stroke-linecap="butt"/>
<line x1="397.60" y1="67.89" x2="403.20" y2="67.89" stroke="#000" stroke-width="1.2" stroke-linecap="butt"/>
<rect x="398.30" y="64.14" width="4.20" height="4.20" fill="#000"/>
<line x1="433.80" y1="65.68" x2="433.80" y2="70.10" stroke="#000" stroke-width="1.2" stroke-linecap="butt"/>
<line x1="431.00" y1="65.68" x2="436.60" y2="65.68" stroke="#000" stroke-width="1.2" stroke-linecap="butt"/>
<line x1="431.00" y1="70.10" x2="436.60" y2="70.10" stroke="#000" stroke-width="1.2" stroke-linecap="butt"/>
<rect x="431.70" y="65.79" width="4.20" height="4.20" fill="#000"/>
<line x1="467.00" y1="66.35" x2="467.00" y2="72.98" stroke="#000" stroke-width="1.2" stroke-linecap="butt"/>
<line x1="464.20" y1="66.35" x2="469.80" y2="66.35" stroke="#000" stroke-width="1.2" stroke-linecap="butt"/>
<line x1="464.20" y1="72.98" x2="469.80" y2="72.98" stroke="#000" stroke-width="1.2" stroke-linecap="butt"/>
<rect x="464.90" y="67.56" width="4.20" height="4.20" fill="#000"/>
<line x1="500.40" y1="67.12" x2="500.40" y2="73.75" stroke="#000" stroke-width="1.2" stroke-linecap="butt"/>
<line x1="497.60" y1="67.12" x2="503.20" y2="67.12" stroke="#000" stroke-width="1.2" stroke-linecap="butt"/>
<line x1="497.60" y1="73.75" x2="503.20" y2="73.75" stroke="#000" stroke-width="1.2" stroke-linecap="butt"/>
<rect x="498.30" y="68.33" width="4.20" height="4.20" fill="#000"/>
<line x1="400.40" y1="74.52" x2="400.40" y2="83.36" stroke="#000" stroke-width="1.2" stroke-linecap="butt"/>
<line x1="397.60" y1="74.52" x2="403.20" y2="74.52" stroke="#000" stroke-width="1.2" stroke-linecap="butt"/>
<line x1="397.60" y1="83.36" x2="403.20" y2="83.36" stroke="#000" stroke-width="1.2" stroke-linecap="butt"/>
<path d="M400.40 81.04L402.50 77.26L398.30 77.26Z" fill="#000"/>
<line x1="433.80" y1="67.89" x2="433.80" y2="74.52" stroke="#000" stroke-width="1.2" stroke-linecap="butt"/>
<line x1="431.00" y1="67.89" x2="436.60" y2="67.89" stroke="#000" stroke-width="1.2" stroke-linecap="butt"/>
<line x1="431.00" y1="74.52" x2="436.60" y2="74.52" stroke="#000" stroke-width="1.2" stroke-linecap="butt"/>
<path d="M433.80 73.31L435.90 69.53L431.70 69.53Z" fill="#000"/>
<line x1="467.00" y1="66.79" x2="467.00" y2="75.63" stroke="#000" stroke-width="1.2" stroke-linecap="butt"/>
<line x1="464.20" y1="66.79" x2="469.80" y2="66.79" stroke="#000" stroke-width="1.2" stroke-linecap="butt"/>
<line x1="464.20" y1="75.63" x2="469.80" y2="75.63" stroke="#000" stroke-width="1.2" stroke-linecap="butt"/>
<path d="M467.00 73.31L469.10 69.53L464.90 69.53Z" fill="#000"/>
<line x1="500.40" y1="66.23" x2="500.40" y2="79.50" stroke="#000" stroke-width="1.2" stroke-linecap="butt"/>
<line x1="497.60" y1="66.23" x2="503.20" y2="66.23" stroke="#000" stroke-width="1.2" stroke-linecap="butt"/>
<line x1="497.60" y1="79.50" x2="503.20" y2="79.50" stroke="#000" stroke-width="1.2" stroke-linecap="butt"/>
<path d="M500.40 74.96L502.50 71.18L498.30 71.18Z" fill="#000"/>
<text x="505.5" y="80.4" font-size="7" text-anchor="middle" fill="#000">*</text>
<text x="0.2" y="169.4" font-size="10.6" text-anchor="start" font-weight="bold" fill="#111">D</text>
<line x1="33.20" y1="163.90" x2="33.20" y2="204.30" stroke="#000" stroke-width="1.3" stroke-linecap="butt"/>
<line x1="29.20" y1="164.50" x2="33.20" y2="164.50" stroke="#000" stroke-width="1.3" stroke-linecap="butt"/>
<text x="28.6" y="167.5" font-size="8.4" text-anchor="end" fill="#111">50</text>
<line x1="29.20" y1="184.40" x2="33.20" y2="184.40" stroke="#000" stroke-width="1.3" stroke-linecap="butt"/>
<text x="28.6" y="187.4" font-size="8.4" text-anchor="end" fill="#111">30</text>
<line x1="29.20" y1="204.30" x2="33.20" y2="204.30" stroke="#000" stroke-width="1.3" stroke-linecap="butt"/>
<text x="28.6" y="207.3" font-size="8.4" text-anchor="end" fill="#111">10</text>
<line x1="33.20" y1="212.50" x2="33.20" y2="252.00" stroke="#000" stroke-width="1.3" stroke-linecap="butt"/>
<line x1="29.20" y1="212.50" x2="33.20" y2="212.50" stroke="#000" stroke-width="1.3" stroke-linecap="butt"/>
<text x="28.6" y="215.5" font-size="8.4" text-anchor="end" fill="#111">5</text>
<line x1="29.20" y1="228.30" x2="33.20" y2="228.30" stroke="#000" stroke-width="1.3" stroke-linecap="butt"/>
<text x="28.6" y="231.3" font-size="8.4" text-anchor="end" fill="#111">3</text>
<line x1="29.20" y1="244.10" x2="33.20" y2="244.10" stroke="#000" stroke-width="1.3" stroke-linecap="butt"/>
<text x="28.6" y="247.1" font-size="8.4" text-anchor="end" fill="#111">1</text>
<line x1="29.20" y1="252.00" x2="33.20" y2="252.00" stroke="#000" stroke-width="1.3" stroke-linecap="butt"/>
<text x="28.6" y="255.0" font-size="8.4" text-anchor="end" fill="#111">0</text>
<line x1="32.60" y1="252.00" x2="166.40" y2="252.00" stroke="#000" stroke-width="1.3" stroke-linecap="butt"/>
<line x1="41.00" y1="252.00" x2="41.00" y2="256.00" stroke="#000" stroke-width="1.3" stroke-linecap="butt"/>
<line x1="57.80" y1="252.00" x2="57.80" y2="256.00" stroke="#000" stroke-width="1.3" stroke-linecap="butt"/>
<line x1="74.60" y1="252.00" x2="74.60" y2="256.00" stroke="#000" stroke-width="1.3" stroke-linecap="butt"/>
<line x1="91.40" y1="252.00" x2="91.40" y2="256.00" stroke="#000" stroke-width="1.3" stroke-linecap="butt"/>
<line x1="108.20" y1="252.00" x2="108.20" y2="256.00" stroke="#000" stroke-width="1.3" stroke-linecap="butt"/>
<line x1="125.00" y1="252.00" x2="125.00" y2="256.00" stroke="#000" stroke-width="1.3" stroke-linecap="butt"/>
<line x1="141.80" y1="252.00" x2="141.80" y2="256.00" stroke="#000" stroke-width="1.3" stroke-linecap="butt"/>
<line x1="158.60" y1="252.00" x2="158.60" y2="256.00" stroke="#000" stroke-width="1.3" stroke-linecap="butt"/>
<text x="16.0" y="215.0" font-size="8.2" text-anchor="middle" fill="#111" transform="rotate(-90 16.0 215.0)">Plasma TPO (ng/mL)</text>
<text x="45.50" y="263.00" font-size="8.6" text-anchor="end" fill="#111" transform="rotate(-45 45.50 263.00)"><tspan>WT</tspan></text>
<text x="64.90" y="263.00" font-size="8.6" text-anchor="end" fill="#111" transform="rotate(-45 64.90 263.00)"><tspan>VF</tspan><tspan font-size="7.74" dx="0.3" dy="-2.15">+</tspan><tspan dx="0" dy="2.15">​</tspan></text>
<text x="81.70" y="263.00" font-size="8.6" text-anchor="end" fill="#111" transform="rotate(-45 81.70 263.00)"><tspan font-style="italic">Mpl</tspan><tspan font-size="7.74" dx="0.3" dy="-2.15">+/-</tspan><tspan dx="0" dy="2.15">​</tspan></text>
<text x="98.50" y="263.00" font-size="8.6" text-anchor="end" fill="#111" transform="rotate(-45 98.50 263.00)"><tspan>VF</tspan><tspan font-size="7.74" dx="0.3" dy="-2.15">+</tspan><tspan dx="0.9" dy="2.15">​</tspan><tspan font-style="italic">Mpl</tspan><tspan font-size="7.74" dx="0.3" dy="-2.15">+/-</tspan><tspan dx="0" dy="2.15">​</tspan></text>
<text x="115.30" y="263.00" font-size="8.6" text-anchor="end" fill="#111" transform="rotate(-45 115.30 263.00)"><tspan font-style="italic">Mpl</tspan><tspan font-size="7.74" dx="0.3" dy="-2.15">-/-</tspan><tspan dx="0" dy="2.15">​</tspan></text>
<text x="132.10" y="263.00" font-size="8.6" text-anchor="end" fill="#111" transform="rotate(-45 132.10 263.00)"><tspan>VF</tspan><tspan font-size="7.74" dx="0.3" dy="-2.15">+</tspan><tspan dx="0.9" dy="2.15">​</tspan><tspan font-style="italic">Mpl</tspan><tspan font-size="7.74" dx="0.3" dy="-2.15">-/-</tspan><tspan dx="0" dy="2.15">​</tspan></text>
<text x="148.90" y="263.00" font-size="8.6" text-anchor="end" fill="#111" transform="rotate(-45 148.90 263.00)"><tspan font-style="italic">Tpo</tspan><tspan font-size="7.74" dx="0.3" dy="-2.15">-/-</tspan><tspan dx="0" dy="2.15">​</tspan></text>
<text x="165.70" y="263.00" font-size="8.6" text-anchor="end" fill="#111" transform="rotate(-45 165.70 263.00)"><tspan>VF</tspan><tspan font-size="7.74" dx="0.3" dy="-2.15">+</tspan><tspan dx="0.9" dy="2.15">​</tspan><tspan font-style="italic">Tpo</tspan><tspan font-size="7.74" dx="0.3" dy="-2.15">-/-</tspan><tspan dx="0" dy="2.15">​</tspan></text>
<circle cx="41.50" cy="229.60" r="2.09" fill="#2b6c9c"/>
<circle cx="38.60" cy="233.60" r="2.09" fill="#2b6c9c"/>
<circle cx="46.60" cy="236.00" r="2.09" fill="#2b6c9c"/>
<circle cx="42.60" cy="238.40" r="2.09" fill="#2b6c9c"/>
<circle cx="39.40" cy="241.40" r="2.09" fill="#2b6c9c"/>
<circle cx="44.60" cy="240.40" r="2.09" fill="#2b6c9c"/>
<line x1="42.20" y1="231.50" x2="42.20" y2="240.60" stroke="#000" stroke-width="1.0" stroke-linecap="butt"/>
<line x1="39.80" y1="231.50" x2="44.60" y2="231.50" stroke="#000" stroke-width="1.0" stroke-linecap="butt"/>
<line x1="39.80" y1="240.60" x2="44.60" y2="240.60" stroke="#000" stroke-width="1.0" stroke-linecap="butt"/>
<line x1="37.00" y1="236.00" x2="47.50" y2="236.00" stroke="#000" stroke-width="1.2" stroke-linecap="butt"/>
<path d="M52.80 243.90L55.30 239.40L50.30 239.40Z" fill="#a5182a"/>
<path d="M63.00 243.90L65.50 239.40L60.50 239.40Z" fill="#a5182a"/>
<path d="M55.00 245.90L57.50 241.40L52.50 241.40Z" fill="#a5182a"/>
<path d="M60.80 245.90L63.30 241.40L58.30 241.40Z" fill="#a5182a"/>
<path d="M57.90 248.30L60.40 243.80L55.40 243.80Z" fill="#a5182a"/>
<path d="M55.60 250.10L58.10 245.60L53.10 245.60Z" fill="#a5182a"/>
<path d="M60.00 250.10L62.50 245.60L57.50 245.60Z" fill="#a5182a"/>
<path d="M57.80 251.90L60.30 247.40L55.30 247.40Z" fill="#a5182a"/>
<line x1="57.90" y1="241.00" x2="57.90" y2="247.50" stroke="#000" stroke-width="1.0" stroke-linecap="butt"/>
<line x1="55.50" y1="241.00" x2="60.30" y2="241.00" stroke="#000" stroke-width="1.0" stroke-linecap="butt"/>
<line x1="55.50" y1="247.50" x2="60.30" y2="247.50" stroke="#000" stroke-width="1.0" stroke-linecap="butt"/>
<line x1="52.50" y1="243.80" x2="63.50" y2="243.80" stroke="#000" stroke-width="1.2" stroke-linecap="butt"/>
<circle cx="72.40" cy="227.80" r="1.90" fill="#8a8a8a"/>
<circle cx="78.80" cy="230.00" r="1.90" fill="#8a8a8a"/>
<circle cx="75.40" cy="239.40" r="1.90" fill="#8a8a8a"/>
<line x1="75.20" y1="226.80" x2="75.20" y2="240.30" stroke="#000" stroke-width="1.0" stroke-linecap="butt"/>
<line x1="72.80" y1="226.80" x2="77.60" y2="226.80" stroke="#000" stroke-width="1.0" stroke-linecap="butt"/>
<line x1="72.80" y1="240.30" x2="77.60" y2="240.30" stroke="#000" stroke-width="1.0" stroke-linecap="butt"/>
<line x1="70.60" y1="233.20" x2="81.00" y2="233.20" stroke="#000" stroke-width="1.2" stroke-linecap="butt"/>
<circle cx="91.60" cy="215.80" r="2.10" fill="#fff" stroke="#3a9a5a" stroke-width="0.9"/>
<circle cx="89.20" cy="237.60" r="2.10" fill="#fff" stroke="#3a9a5a" stroke-width="0.9"/>
<circle cx="94.00" cy="237.60" r="2.10" fill="#fff" stroke="#3a9a5a" stroke-width="0.9"/>
<circle cx="91.60" cy="229.00" r="2.10" fill="#fff" stroke="#3a9a5a" stroke-width="0.9"/>
<line x1="91.60" y1="219.80" x2="91.60" y2="238.60" stroke="#000" stroke-width="1.0" stroke-linecap="butt"/>
<line x1="89.20" y1="219.80" x2="94.00" y2="219.80" stroke="#000" stroke-width="1.0" stroke-linecap="butt"/>
<line x1="89.20" y1="238.60" x2="94.00" y2="238.60" stroke="#000" stroke-width="1.0" stroke-linecap="butt"/>
<line x1="86.60" y1="230.60" x2="97.60" y2="230.60" stroke="#000" stroke-width="1.2" stroke-linecap="butt"/>
<path d="M105.40 177.90L107.50 181.68L103.30 181.68Z" fill="#301830"/>
<path d="M110.60 178.90L112.70 182.68L108.50 182.68Z" fill="#301830"/>
<path d="M106.60 183.90L108.70 187.68L104.50 187.68Z" fill="#301830"/>
<path d="M110.00 185.50L112.10 189.28L107.90 189.28Z" fill="#301830"/>
<path d="M108.20 181.40L110.30 185.18L106.10 185.18Z" fill="#301830"/>
<line x1="108.20" y1="177.60" x2="108.20" y2="189.00" stroke="#000" stroke-width="1.1" stroke-linecap="butt"/>
<line x1="105.60" y1="177.60" x2="110.80" y2="177.60" stroke="#000" stroke-width="1.1" stroke-linecap="butt"/>
<line x1="105.60" y1="189.00" x2="110.80" y2="189.00" stroke="#000" stroke-width="1.1" stroke-linecap="butt"/>
<line x1="102.60" y1="184.00" x2="114.20" y2="184.00" stroke="#000" stroke-width="1.3" stroke-linecap="butt"/>
<path d="M121.40 176.70L123.50 172.92L119.30 172.92Z" fill="#b8aa2a"/>
<path d="M126.80 177.90L128.90 174.12L124.70 174.12Z" fill="#b8aa2a"/>
<path d="M124.20 181.70L126.30 177.92L122.10 177.92Z" fill="#b8aa2a"/>
<path d="M129.60 179.10L131.70 175.32L127.50 175.32Z" fill="#b8aa2a"/>
<path d="M122.00 183.10L124.10 179.32L119.90 179.32Z" fill="#b8aa2a"/>
<line x1="124.40" y1="173.40" x2="124.40" y2="182.40" stroke="#000" stroke-width="1.1" stroke-linecap="butt"/>
<line x1="121.80" y1="173.40" x2="127.00" y2="173.40" stroke="#000" stroke-width="1.1" stroke-linecap="butt"/>
<line x1="121.80" y1="182.40" x2="127.00" y2="182.40" stroke="#000" stroke-width="1.1" stroke-linecap="butt"/>
<line x1="119.40" y1="177.60" x2="129.60" y2="177.60" stroke="#000" stroke-width="1.3" stroke-linecap="butt"/>
<text x="108.7" y="175.22" font-size="8.2" text-anchor="middle" fill="#000">***</text>
<text x="124.6" y="171.11999999999998" font-size="8.2" text-anchor="middle" fill="#000">***</text>
<path d="M137.50 248.30L139.40 251.72L135.60 251.72Z" fill="#c89050"/>
<path d="M140.50 248.30L142.40 251.72L138.60 251.72Z" fill="#c89050"/>
<path d="M143.50 248.30L145.40 251.72L141.60 251.72Z" fill="#c89050"/>
<path d="M146.00 248.30L147.90 251.72L144.10 251.72Z" fill="#c89050"/>
<line x1="136.50" y1="250.60" x2="147.00" y2="250.60" stroke="#000" stroke-width="1.2" stroke-linecap="butt"/>
<path d="M154.50 251.20L156.50 247.60L152.50 247.60Z" fill="#111"/>
<path d="M157.50 250.00L159.50 246.40L155.50 246.40Z" fill="#111"/>
<path d="M160.50 251.00L162.50 247.40L158.50 247.40Z" fill="#111"/>
<path d="M156.50 252.80L158.50 249.20L154.50 249.20Z" fill="#111"/>
<path d="M159.50 252.80L161.50 249.20L157.50 249.20Z" fill="#111"/>
<path d="M162.00 251.80L164.00 248.20L160.00 248.20Z" fill="#111"/>
<line x1="153.00" y1="249.80" x2="163.50" y2="249.80" stroke="#000" stroke-width="1.2" stroke-linecap="butt"/>
<text x="187.0" y="169.5" font-size="10.6" text-anchor="start" font-weight="bold" fill="#111">E</text>
<defs><linearGradient id="eg" x1="0" y1="0" x2="0" y2="1"><stop offset="0" stop-color="#d2d3d5"/><stop offset="0.45" stop-color="#dedfe1"/><stop offset="1" stop-color="#d9dadc"/></linearGradient><filter id="bl" x="-20%" y="-20%" width="140%" height="140%"><feGaussianBlur stdDeviation="0.45"/></filter></defs>
<rect x="182.6" y="219.0" width="156.00" height="44.19999999999999" fill="url(#eg)"/>
<line x1="182.60" y1="219.00" x2="182.60" y2="263.20" stroke="#727272" stroke-width="1.1" stroke-linecap="butt"/>
<line x1="202.10" y1="219.00" x2="202.10" y2="263.20" stroke="#727272" stroke-width="1.1" stroke-linecap="butt"/>
<line x1="221.60" y1="219.00" x2="221.60" y2="263.20" stroke="#727272" stroke-width="1.1" stroke-linecap="butt"/>
<line x1="241.10" y1="219.00" x2="241.10" y2="263.20" stroke="#727272" stroke-width="1.1" stroke-linecap="butt"/>
<line x1="260.60" y1="219.00" x2="260.60" y2="263.20" stroke="#727272" stroke-width="1.1" stroke-linecap="butt"/>
<line x1="280.10" y1="219.00" x2="280.10" y2="263.20" stroke="#727272" stroke-width="1.1" stroke-linecap="butt"/>
<line x1="299.60" y1="219.00" x2="299.60" y2="263.20" stroke="#727272" stroke-width="1.1" stroke-linecap="butt"/>
<line x1="319.10" y1="219.00" x2="319.10" y2="263.20" stroke="#727272" stroke-width="1.1" stroke-linecap="butt"/>
<line x1="338.60" y1="219.00" x2="338.60" y2="263.20" stroke="#727272" stroke-width="1.1" stroke-linecap="butt"/>
<line x1="182.60" y1="219.40" x2="338.60" y2="219.40" stroke="#777" stroke-width="0.9" stroke-linecap="butt"/>
<line x1="182.60" y1="262.80" x2="338.60" y2="262.80" stroke="#777" stroke-width="0.9" stroke-linecap="butt"/>
<text x="195.10" y="218.20" font-size="8.5" fill="#111" transform="rotate(-45 195.10 218.20)"><tspan>WT</tspan></text>
<text x="214.60" y="218.20" font-size="8.5" fill="#111" transform="rotate(-45 214.60 218.20)"><tspan>VF</tspan><tspan font-size="7.65" dx="0.3" dy="-2.12">+</tspan><tspan dx="0" dy="2.12">​</tspan></text>
<text x="234.10" y="218.20" font-size="8.5" fill="#111" transform="rotate(-45 234.10 218.20)"><tspan font-style="italic">Mpl</tspan><tspan font-size="7.65" dx="0.3" dy="-2.12">+/-</tspan><tspan dx="0" dy="2.12">​</tspan></text>
<text x="253.60" y="218.20" font-size="8.5" fill="#111" transform="rotate(-45 253.60 218.20)"><tspan>VF</tspan><tspan font-size="7.65" dx="0.3" dy="-2.12">+</tspan><tspan dx="0.9" dy="2.12">​</tspan><tspan font-style="italic">Mpl</tspan><tspan font-size="7.65" dx="0.3" dy="-2.12">-/-</tspan><tspan dx="0" dy="2.12">​</tspan></text>
<text x="273.10" y="218.20" font-size="8.5" fill="#111" transform="rotate(-45 273.10 218.20)"><tspan font-style="italic">Mpl</tspan><tspan font-size="7.65" dx="0.3" dy="-2.12">-/-</tspan><tspan dx="0" dy="2.12">​</tspan></text>
<text x="292.60" y="218.20" font-size="8.5" fill="#111" transform="rotate(-45 292.60 218.20)"><tspan>VF</tspan><tspan font-size="7.65" dx="0.3" dy="-2.12">+</tspan><tspan dx="0.9" dy="2.12">​</tspan><tspan font-style="italic">Mpl</tspan><tspan font-size="7.65" dx="0.3" dy="-2.12">+/-</tspan><tspan dx="0" dy="2.12">​</tspan></text>
<text x="312.10" y="218.20" font-size="8.5" fill="#111" transform="rotate(-45 312.10 218.20)"><tspan font-style="italic">Tpo</tspan><tspan font-size="7.65" dx="0.3" dy="-2.12">-/-</tspan><tspan dx="0" dy="2.12">​</tspan></text>
<text x="331.60" y="218.20" font-size="8.5" fill="#111" transform="rotate(-45 331.60 218.20)"><tspan>VF</tspan><tspan font-size="7.65" dx="0.3" dy="-2.12">+</tspan><tspan dx="0.9" dy="2.12">​</tspan><tspan font-style="italic">Tpo</tspan><tspan font-size="7.65" dx="0.3" dy="-2.12">-/-</tspan><tspan dx="0" dy="2.12">​</tspan></text>
<path d="M194.00 235.00 L191.89 234.51 L191.08 234.96 L190.41 235.51 L189.81 236.12 L189.26 236.76 L188.76 237.43 L188.30 238.12 L187.88 238.84 L187.49 239.58 L187.14 240.33 L186.83 241.09 L186.55 241.87 L186.31 242.66 L186.10 243.46 L185.92 244.28 L185.78 245.09 L185.68 245.92 L185.61 246.75 L185.57 247.58 L185.57 248.42 L185.61 249.26 L185.68 250.10 L185.78 250.94 L185.92 251.77 L186.09 252.61 L186.30 253.44 L186.55 254.27 L186.83 255.09 L187.15 255.90 L187.51 256.71 L187.91 257.50 L188.36 258.28 L188.87 259.03 L189.46 259.76 L190.20 260.41 L192.40 260.40 L192.40 260.40 L193.91 258.82 L194.01 257.93 L194.00 257.11 L193.95 256.33 L193.89 255.58 L193.83 254.85 L193.76 254.14 L193.71 253.46 L193.65 252.78 L193.61 252.12 L193.57 251.48 L193.55 250.85 L193.53 250.23 L193.52 249.62 L193.53 249.01 L193.54 248.42 L193.56 247.83 L193.59 247.25 L193.63 246.67 L193.68 246.10 L193.74 245.53 L193.81 244.96 L193.89 244.39 L193.98 243.82 L194.08 243.24 L194.19 242.66 L194.31 242.07 L194.43 241.48 L194.57 240.88 L194.71 240.26 L194.85 239.63 L194.99 238.98 L195.13 238.29 L195.23 237.57 L195.25 236.75 L194.00 235.00Z" fill="#3e0a1a" stroke="#3e0a1a" stroke-width="1.2" stroke-linejoin="round" filter="url(#bl)"/>
<path d="M216.50 226.00 L213.36 224.73 L212.03 225.23 L210.89 225.91 L209.86 226.69 L208.91 227.53 L208.03 228.44 L207.22 229.39 L206.48 230.38 L205.80 231.42 L205.19 232.49 L204.64 233.59 L204.16 234.72 L203.75 235.87 L203.40 237.05 L203.13 238.25 L202.93 239.46 L202.81 240.68 L202.75 241.91 L202.77 243.14 L202.86 244.37 L203.02 245.59 L203.25 246.80 L203.55 248.01 L203.92 249.19 L204.36 250.36 L204.86 251.51 L205.43 252.64 L206.06 253.75 L206.75 254.82 L207.52 255.87 L208.35 256.88 L209.26 257.85 L210.26 258.77 L211.38 259.60 L212.70 260.28 L216.00 259.40 L216.00 259.40 L217.76 256.51 L217.64 255.19 L217.40 254.04 L217.13 252.97 L216.85 251.97 L216.60 251.02 L216.36 250.11 L216.14 249.24 L215.95 248.41 L215.78 247.61 L215.64 246.84 L215.52 246.10 L215.43 245.38 L215.35 244.69 L215.30 244.02 L215.26 243.36 L215.25 242.72 L215.25 242.09 L215.27 241.47 L215.30 240.85 L215.35 240.23 L215.42 239.60 L215.51 238.96 L215.62 238.31 L215.75 237.64 L215.90 236.95 L216.07 236.23 L216.27 235.49 L216.50 234.72 L216.75 233.92 L217.02 233.07 L217.30 232.18 L217.60 231.23 L217.87 230.19 L218.04 228.97 L216.50 226.00Z" fill="#4e1038" stroke="#4e1038" stroke-width="1.2" stroke-linejoin="round" filter="url(#bl)"/>
<circle cx="211.5" cy="253.5" r="0.8" fill="#e8d8e0" opacity="0.8"/>
<path d="M233.00 236.60 L230.89 236.51 L230.21 237.06 L229.66 237.67 L229.18 238.31 L228.76 238.97 L228.37 239.65 L228.02 240.34 L227.70 241.03 L227.41 241.73 L227.14 242.44 L226.90 243.15 L226.69 243.86 L226.50 244.58 L226.33 245.30 L226.19 246.02 L226.07 246.75 L225.98 247.47 L225.91 248.20 L225.87 248.92 L225.85 249.64 L225.85 250.36 L225.88 251.08 L225.94 251.79 L226.02 252.50 L226.12 253.20 L226.25 253.90 L226.41 254.59 L226.60 255.28 L226.82 255.95 L227.07 256.61 L227.36 257.26 L227.69 257.89 L228.07 258.50 L228.53 259.08 L229.13 259.61 L231.20 259.60 L231.20 259.60 L232.88 258.40 L233.11 257.73 L233.23 257.11 L233.30 256.51 L233.34 255.93 L233.37 255.37 L233.40 254.81 L233.42 254.26 L233.44 253.71 L233.45 253.16 L233.47 252.62 L233.50 252.08 L233.52 251.54 L233.55 250.99 L233.58 250.45 L233.61 249.91 L233.65 249.36 L233.69 248.80 L233.73 248.25 L233.78 247.69 L233.84 247.12 L233.90 246.55 L233.96 245.97 L234.02 245.38 L234.09 244.79 L234.17 244.18 L234.24 243.57 L234.32 242.95 L234.40 242.31 L234.47 241.66 L234.54 241.00 L234.60 240.31 L234.64 239.61 L234.63 238.87 L234.51 238.06 L233.00 236.60Z" fill="#4a0a1c" stroke="#4a0a1c" stroke-width="1.2" stroke-linejoin="round" filter="url(#bl)"/>
<path d="M254.40 238.00 L252.05 237.43 L251.18 237.88 L250.47 238.42 L249.83 239.02 L249.25 239.64 L248.71 240.28 L248.22 240.94 L247.76 241.61 L247.33 242.30 L246.94 242.99 L246.58 243.70 L246.25 244.41 L245.95 245.13 L245.69 245.85 L245.46 246.58 L245.26 247.32 L245.09 248.06 L244.95 248.80 L244.85 249.54 L244.79 250.29 L244.76 251.03 L244.76 251.77 L244.81 252.50 L244.88 253.23 L245.00 253.95 L245.15 254.66 L245.34 255.36 L245.57 256.05 L245.84 256.72 L246.16 257.37 L246.52 257.99 L246.93 258.59 L247.41 259.14 L247.97 259.65 L248.69 260.06 L251.00 259.60 L251.00 259.60 L252.79 258.10 L253.02 257.45 L253.14 256.88 L253.22 256.37 L253.27 255.88 L253.31 255.41 L253.34 254.96 L253.38 254.52 L253.41 254.09 L253.44 253.66 L253.48 253.24 L253.52 252.81 L253.56 252.39 L253.61 251.96 L253.66 251.53 L253.71 251.10 L253.78 250.65 L253.85 250.20 L253.92 249.74 L254.00 249.26 L254.09 248.78 L254.19 248.28 L254.30 247.76 L254.42 247.24 L254.54 246.69 L254.68 246.13 L254.82 245.55 L254.97 244.96 L255.13 244.34 L255.29 243.70 L255.45 243.03 L255.61 242.34 L255.75 241.60 L255.85 240.81 L255.85 239.92 L254.40 238.00Z" fill="#260812" stroke="#260812" stroke-width="1.2" stroke-linejoin="round" filter="url(#bl)"/>
<path d="M270.60 235.40 L268.47 235.64 L267.83 236.34 L267.32 237.07 L266.89 237.82 L266.51 238.57 L266.17 239.33 L265.86 240.08 L265.57 240.84 L265.31 241.59 L265.08 242.33 L264.86 243.07 L264.67 243.81 L264.49 244.55 L264.34 245.27 L264.20 246.00 L264.09 246.72 L263.99 247.43 L263.92 248.13 L263.86 248.83 L263.82 249.52 L263.81 250.21 L263.81 250.88 L263.83 251.55 L263.88 252.21 L263.94 252.86 L264.03 253.50 L264.14 254.13 L264.28 254.75 L264.44 255.36 L264.63 255.95 L264.86 256.53 L265.12 257.09 L265.44 257.62 L265.83 258.13 L266.36 258.58 L268.40 258.60 L268.40 258.60 L270.19 257.66 L270.50 257.12 L270.69 256.63 L270.82 256.14 L270.93 255.66 L271.01 255.18 L271.08 254.70 L271.15 254.21 L271.21 253.72 L271.26 253.21 L271.32 252.71 L271.37 252.19 L271.42 251.66 L271.47 251.12 L271.52 250.58 L271.57 250.02 L271.63 249.45 L271.68 248.87 L271.74 248.28 L271.80 247.67 L271.86 247.05 L271.92 246.42 L271.98 245.78 L272.04 245.12 L272.11 244.45 L272.17 243.76 L272.24 243.06 L272.30 242.35 L272.36 241.62 L272.41 240.87 L272.45 240.11 L272.47 239.32 L272.47 238.51 L272.42 237.67 L272.24 236.77 L270.60 235.40Z" fill="#580c18" stroke="#580c18" stroke-width="1.2" stroke-linejoin="round" filter="url(#bl)"/>
<path d="M290.60 235.00 L287.77 235.21 L287.11 235.72 L286.64 236.27 L286.26 236.84 L285.95 237.42 L285.67 238.01 L285.43 238.62 L285.22 239.23 L285.03 239.85 L284.86 240.48 L284.71 241.11 L284.58 241.75 L284.46 242.40 L284.36 243.05 L284.28 243.71 L284.20 244.37 L284.15 245.05 L284.11 245.72 L284.08 246.40 L284.07 247.09 L284.07 247.78 L284.08 248.47 L284.12 249.17 L284.16 249.88 L284.23 250.59 L284.31 251.30 L284.41 252.02 L284.53 252.74 L284.68 253.47 L284.85 254.20 L285.05 254.93 L285.30 255.67 L285.61 256.41 L286.01 257.15 L286.61 257.89 L289.40 258.60 L289.40 258.60 L292.17 257.83 L292.75 257.09 L293.14 256.37 L293.45 255.65 L293.70 254.95 L293.91 254.25 L294.09 253.55 L294.25 252.86 L294.39 252.18 L294.52 251.50 L294.63 250.83 L294.73 250.16 L294.81 249.50 L294.89 248.85 L294.95 248.20 L295.01 247.55 L295.06 246.91 L295.09 246.28 L295.12 245.65 L295.14 245.02 L295.15 244.40 L295.15 243.78 L295.13 243.17 L295.11 242.56 L295.08 241.95 L295.03 241.35 L294.97 240.75 L294.89 240.15 L294.80 239.56 L294.68 238.96 L294.54 238.37 L294.35 237.77 L294.12 237.17 L293.79 236.57 L293.28 235.93 L290.60 235.00Z" fill="#400a16" stroke="#400a16" stroke-width="1.2" stroke-linejoin="round" filter="url(#bl)"/>
<circle cx="291.5" cy="245.5" r="0.8" fill="#e8d8e0" opacity="0.8"/>
<path d="M310.40 234.80 L308.24 235.20 L307.64 235.95 L307.19 236.73 L306.81 237.53 L306.48 238.32 L306.19 239.12 L305.94 239.92 L305.71 240.71 L305.50 241.50 L305.32 242.29 L305.16 243.08 L305.02 243.86 L304.90 244.63 L304.80 245.40 L304.72 246.17 L304.66 246.93 L304.62 247.69 L304.60 248.44 L304.60 249.18 L304.61 249.91 L304.65 250.64 L304.71 251.36 L304.78 252.07 L304.88 252.78 L305.00 253.47 L305.14 254.16 L305.30 254.83 L305.48 255.49 L305.70 256.14 L305.94 256.78 L306.21 257.40 L306.52 258.00 L306.88 258.57 L307.32 259.12 L307.90 259.60 L310.00 259.60 L310.00 259.60 L311.78 258.50 L312.06 257.87 L312.21 257.29 L312.30 256.72 L312.37 256.16 L312.42 255.60 L312.45 255.04 L312.48 254.48 L312.50 253.92 L312.52 253.35 L312.53 252.78 L312.54 252.20 L312.55 251.61 L312.56 251.02 L312.57 250.42 L312.58 249.81 L312.59 249.19 L312.60 248.56 L312.61 247.93 L312.62 247.28 L312.63 246.62 L312.64 245.96 L312.66 245.28 L312.67 244.59 L312.68 243.89 L312.69 243.17 L312.70 242.45 L312.70 241.71 L312.70 240.96 L312.69 240.19 L312.67 239.41 L312.64 238.61 L312.57 237.79 L312.44 236.95 L312.19 236.06 L310.40 234.80Z" fill="#2c0810" stroke="#2c0810" stroke-width="1.2" stroke-linejoin="round" filter="url(#bl)"/>
<circle cx="309.5" cy="250.5" r="0.8" fill="#e8d8e0" opacity="0.8"/>
<path d="M335.60 223.00 L333.60 223.35 L332.92 224.20 L332.37 225.12 L331.89 226.06 L331.47 227.03 L331.08 228.02 L330.74 229.03 L330.43 230.06 L330.15 231.09 L329.90 232.15 L329.68 233.21 L329.48 234.29 L329.32 235.37 L329.18 236.47 L329.07 237.57 L328.99 238.69 L328.93 239.81 L328.90 240.95 L328.90 242.09 L328.92 243.23 L328.97 244.39 L329.04 245.55 L329.14 246.72 L329.27 247.89 L329.43 249.07 L329.61 250.26 L329.82 251.44 L330.07 252.64 L330.34 253.83 L330.65 255.03 L330.99 256.23 L331.38 257.43 L331.82 258.63 L332.33 259.81 L332.98 260.98 L335.00 261.80 L335.00 261.80 L336.42 260.17 L336.52 258.89 L336.51 257.65 L336.46 256.44 L336.40 255.25 L336.33 254.08 L336.26 252.92 L336.19 251.78 L336.13 250.66 L336.07 249.54 L336.02 248.44 L335.97 247.35 L335.94 246.28 L335.91 245.21 L335.89 244.16 L335.89 243.11 L335.89 242.08 L335.90 241.05 L335.92 240.04 L335.95 239.03 L335.99 238.04 L336.04 237.05 L336.09 236.07 L336.16 235.09 L336.23 234.12 L336.31 233.16 L336.40 232.21 L336.50 231.25 L336.59 230.30 L336.69 229.36 L336.79 228.41 L336.88 227.46 L336.96 226.50 L337.00 225.52 L336.94 224.50 L335.60 223.00Z" fill="#a09aa4" stroke="#a09aa4" stroke-width="1.2" stroke-linejoin="round" filter="url(#bl)"/>
<path d="M332.00 221.00 L329.09 220.72 L327.97 221.55 L327.04 222.51 L326.21 223.52 L325.47 224.58 L324.78 225.67 L324.15 226.79 L323.58 227.94 L323.06 229.11 L322.59 230.29 L322.17 231.49 L321.79 232.71 L321.47 233.94 L321.19 235.18 L320.96 236.44 L320.78 237.70 L320.64 238.97 L320.56 240.24 L320.52 241.52 L320.53 242.81 L320.58 244.09 L320.69 245.38 L320.84 246.66 L321.04 247.95 L321.28 249.23 L321.58 250.51 L321.93 251.78 L322.32 253.05 L322.77 254.30 L323.28 255.55 L323.84 256.78 L324.47 257.99 L325.19 259.17 L326.01 260.32 L327.04 261.38 L330.00 261.60 L330.00 261.60 L331.95 259.39 L332.03 258.04 L331.97 256.77 L331.86 255.56 L331.74 254.38 L331.61 253.23 L331.49 252.11 L331.37 251.00 L331.27 249.92 L331.18 248.85 L331.11 247.80 L331.05 246.76 L331.01 245.74 L330.98 244.72 L330.97 243.72 L330.98 242.73 L331.00 241.74 L331.04 240.76 L331.10 239.78 L331.17 238.81 L331.26 237.84 L331.37 236.87 L331.49 235.90 L331.63 234.93 L331.78 233.96 L331.96 232.98 L332.14 231.99 L332.34 231.00 L332.55 229.99 L332.77 228.97 L333.00 227.93 L333.23 226.87 L333.45 225.77 L333.62 224.62 L333.68 223.36 L332.00 221.00Z" fill="#44283e" stroke="#44283e" stroke-width="1.2" stroke-linejoin="round" filter="url(#bl)"/>
<rect x="184.5" y="221.6" width="9" height="1.2" fill="#555" opacity="0.7"/>
<text x="356.2" y="169.4" font-size="10.6" text-anchor="start" font-weight="bold" fill="#111">F</text>
<line x1="404.20" y1="178.10" x2="404.20" y2="253.20" stroke="#000" stroke-width="1.3" stroke-linecap="butt"/>
<line x1="400.20" y1="253.20" x2="404.20" y2="253.20" stroke="#000" stroke-width="1.3" stroke-linecap="butt"/>
<text x="399.59999999999997" y="256.2" font-size="8.4" text-anchor="end" fill="#111">0.0</text>
<line x1="400.20" y1="234.57" x2="404.20" y2="234.57" stroke="#000" stroke-width="1.3" stroke-linecap="butt"/>
<text x="399.59999999999997" y="237.575" font-size="8.4" text-anchor="end" fill="#111">0.5</text>
<line x1="400.20" y1="215.95" x2="404.20" y2="215.95" stroke="#000" stroke-width="1.3" stroke-linecap="butt"/>
<text x="399.59999999999997" y="218.95" font-size="8.4" text-anchor="end" fill="#111">1.0</text>
<line x1="400.20" y1="197.32" x2="404.20" y2="197.32" stroke="#000" stroke-width="1.3" stroke-linecap="butt"/>
<text x="399.59999999999997" y="200.325" font-size="8.4" text-anchor="end" fill="#111">1.5</text>
<line x1="400.20" y1="178.70" x2="404.20" y2="178.70" stroke="#000" stroke-width="1.3" stroke-linecap="butt"/>
<text x="399.59999999999997" y="181.7" font-size="8.4" text-anchor="end" fill="#111">2.0</text>
<text x="372.2" y="215.5" font-size="8.2" text-anchor="middle" fill="#111" transform="rotate(-90 372.2 215.5)">Spleen Weight</text>
<text x="381.7" y="215.5" font-size="8.3" text-anchor="middle" fill="#111" transform="rotate(-90 381.7 215.5)">(% body weight)</text>
<rect x="407.40" y="239.42" width="11.6" height="13.78" fill="#1c86cf" stroke="#000" stroke-width="0.8"/>
<line x1="409.70" y1="239.12" x2="416.70" y2="239.12" stroke="#000" stroke-width="1.2" stroke-linecap="butt"/>
<line x1="426.62" y1="183.91" x2="426.62" y2="201.79" stroke="#000" stroke-width="1.0" stroke-linecap="butt"/>
<line x1="424.22" y1="183.91" x2="429.02" y2="183.91" stroke="#000" stroke-width="1.0" stroke-linecap="butt"/>
<line x1="424.22" y1="201.79" x2="429.02" y2="201.79" stroke="#000" stroke-width="1.0" stroke-linecap="butt"/>
<rect x="420.82" y="201.79" width="11.6" height="51.41" fill="#d0101e" stroke="#000" stroke-width="0.8"/>
<rect x="434.24" y="241.65" width="11.6" height="11.55" fill="#a9a9a9" stroke="#000" stroke-width="0.8"/>
<line x1="436.54" y1="241.35" x2="443.54" y2="241.35" stroke="#000" stroke-width="1.2" stroke-linecap="butt"/>
<line x1="453.46" y1="229.73" x2="453.46" y2="231.59" stroke="#000" stroke-width="1.0" stroke-linecap="butt"/>
<line x1="451.06" y1="229.73" x2="455.86" y2="229.73" stroke="#000" stroke-width="1.0" stroke-linecap="butt"/>
<line x1="451.06" y1="231.59" x2="455.86" y2="231.59" stroke="#000" stroke-width="1.0" stroke-linecap="butt"/>
<rect x="447.66" y="231.59" width="11.6" height="21.60" fill="#2b9b4a" stroke="#000" stroke-width="0.8"/>
<rect x="461.08" y="239.79" width="11.6" height="13.41" fill="#9b3f92" stroke="#000" stroke-width="0.8"/>
<line x1="463.38" y1="239.49" x2="470.38" y2="239.49" stroke="#000" stroke-width="1.2" stroke-linecap="butt"/>
<line x1="480.30" y1="228.61" x2="480.30" y2="231.59" stroke="#000" stroke-width="1.0" stroke-linecap="butt"/>
<line x1="477.90" y1="228.61" x2="482.70" y2="228.61" stroke="#000" stroke-width="1.0" stroke-linecap="butt"/>
<line x1="477.90" y1="231.59" x2="482.70" y2="231.59" stroke="#000" stroke-width="1.0" stroke-linecap="butt"/>
<rect x="474.50" y="231.59" width="11.6" height="21.60" fill="#f4d21a" stroke="#000" stroke-width="0.8"/>
<rect x="487.92" y="235.69" width="11.6" height="17.51" fill="#e68a22" stroke="#000" stroke-width="0.8"/>
<line x1="490.22" y1="235.39" x2="497.22" y2="235.39" stroke="#000" stroke-width="1.2" stroke-linecap="butt"/>
<line x1="507.14" y1="205.52" x2="507.14" y2="210.73" stroke="#000" stroke-width="1.0" stroke-linecap="butt"/>
<line x1="504.74" y1="205.52" x2="509.54" y2="205.52" stroke="#000" stroke-width="1.0" stroke-linecap="butt"/>
<line x1="504.74" y1="210.73" x2="509.54" y2="210.73" stroke="#000" stroke-width="1.0" stroke-linecap="butt"/>
<rect x="501.34" y="210.73" width="11.6" height="42.47" fill="#000000" stroke="#000" stroke-width="0.8"/>
<line x1="403.60" y1="253.20" x2="519.50" y2="253.20" stroke="#000" stroke-width="1.3" stroke-linecap="butt"/>
<line x1="413.20" y1="253.20" x2="413.20" y2="256.20" stroke="#000" stroke-width="1.3" stroke-linecap="butt"/>
<line x1="426.62" y1="253.20" x2="426.62" y2="256.20" stroke="#000" stroke-width="1.3" stroke-linecap="butt"/>
<line x1="440.04" y1="253.20" x2="440.04" y2="256.20" stroke="#000" stroke-width="1.3" stroke-linecap="butt"/>
<line x1="453.46" y1="253.20" x2="453.46" y2="256.20" stroke="#000" stroke-width="1.3" stroke-linecap="butt"/>
<line x1="466.88" y1="253.20" x2="466.88" y2="256.20" stroke="#000" stroke-width="1.3" stroke-linecap="butt"/>
<line x1="480.30" y1="253.20" x2="480.30" y2="256.20" stroke="#000" stroke-width="1.3" stroke-linecap="butt"/>
<line x1="493.72" y1="253.20" x2="493.72" y2="256.20" stroke="#000" stroke-width="1.3" stroke-linecap="butt"/>
<line x1="507.14" y1="253.20" x2="507.14" y2="256.20" stroke="#000" stroke-width="1.3" stroke-linecap="butt"/>
<text x="426.62" y="184.32" font-size="8.2" text-anchor="middle" fill="#000">**</text>
<text x="416.70" y="263.20" font-size="8.6" text-anchor="end" fill="#111" transform="rotate(-45 416.70 263.20)"><tspan>WT</tspan></text>
<text x="432.72" y="263.20" font-size="8.6" text-anchor="end" fill="#111" transform="rotate(-45 432.72 263.20)"><tspan>VF</tspan><tspan font-size="7.74" dx="0.3" dy="-2.15">+</tspan><tspan dx="0" dy="2.15">​</tspan></text>
<text x="446.14" y="263.20" font-size="8.6" text-anchor="end" fill="#111" transform="rotate(-45 446.14 263.20)"><tspan font-style="italic">Mpl</tspan><tspan font-size="7.74" dx="0.3" dy="-2.15">+/-</tspan><tspan dx="0" dy="2.15">​</tspan></text>
<text x="459.56" y="263.20" font-size="8.6" text-anchor="end" fill="#111" transform="rotate(-45 459.56 263.20)"><tspan>VF</tspan><tspan font-size="7.74" dx="0.3" dy="-2.15">+</tspan><tspan dx="0.9" dy="2.15">​</tspan><tspan font-style="italic">Mpl</tspan><tspan font-size="7.74" dx="0.3" dy="-2.15">+/-</tspan><tspan dx="0" dy="2.15">​</tspan></text>
<text x="472.98" y="263.20" font-size="8.6" text-anchor="end" fill="#111" transform="rotate(-45 472.98 263.20)"><tspan font-style="italic">Mpl</tspan><tspan font-size="7.74" dx="0.3" dy="-2.15">-/-</tspan><tspan dx="0" dy="2.15">​</tspan></text>
<text x="486.40" y="263.20" font-size="8.6" text-anchor="end" fill="#111" transform="rotate(-45 486.40 263.20)"><tspan>VF</tspan><tspan font-size="7.74" dx="0.3" dy="-2.15">+</tspan><tspan dx="0.9" dy="2.15">​</tspan><tspan font-style="italic">Mpl</tspan><tspan font-size="7.74" dx="0.3" dy="-2.15">-/-</tspan><tspan dx="0" dy="2.15">​</tspan></text>
<text x="499.82" y="263.20" font-size="8.6" text-anchor="end" fill="#111" transform="rotate(-45 499.82 263.20)"><tspan font-style="italic">Tpo</tspan><tspan font-size="7.74" dx="0.3" dy="-2.15">-/-</tspan><tspan dx="0" dy="2.15">​</tspan></text>
<text x="513.24" y="263.20" font-size="8.6" text-anchor="end" fill="#111" transform="rotate(-45 513.24 263.20)"><tspan>VF</tspan><tspan font-size="7.74" dx="0.3" dy="-2.15">+</tspan><tspan dx="0.9" dy="2.15">​</tspan><tspan font-style="italic">Tpo</tspan><tspan font-size="7.74" dx="0.3" dy="-2.15">-/-</tspan><tspan dx="0" dy="2.15">​</tspan></text>
</g></svg></body></html>
